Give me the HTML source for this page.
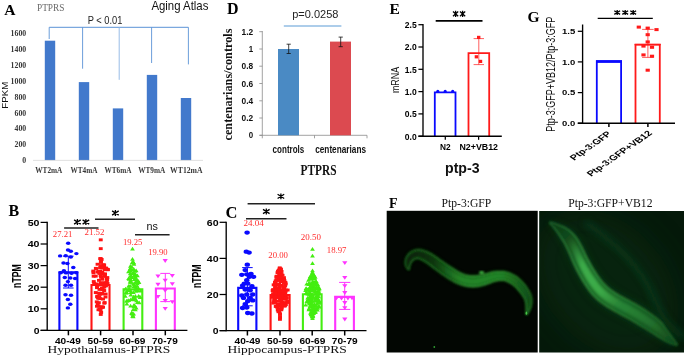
<!DOCTYPE html>
<html><head><meta charset="utf-8"><title>figure</title>
<style>
html,body{margin:0;padding:0;background:#fff;}
body{width:685px;height:356px;overflow:hidden;font-family:"Liberation Sans",sans-serif;}
svg{display:block;opacity:0.999;filter:blur(0.35px);}
</style></head><body>
<svg width="685" height="356" viewBox="0 0 685 356">
<defs>
<filter id="b0" x="-20%" y="-20%" width="140%" height="140%"><feGaussianBlur stdDeviation="0.7"/></filter>
<linearGradient id="g1a" gradientUnits="userSpaceOnUse" x1="405" y1="0" x2="532" y2="0"><stop offset="0" stop-color="#062108"/><stop offset="0.25" stop-color="#0a340d"/><stop offset="0.45" stop-color="#17651b"/><stop offset="0.75" stop-color="#176a1b"/><stop offset="0.9" stop-color="#114d15"/><stop offset="1" stop-color="#0c3a10"/></linearGradient>
<linearGradient id="g1b" gradientUnits="userSpaceOnUse" x1="405" y1="0" x2="532" y2="0"><stop offset="0" stop-color="#1b601c"/><stop offset="0.3" stop-color="#237824"/><stop offset="0.5" stop-color="#35a337"/><stop offset="0.8" stop-color="#2f9631"/><stop offset="1" stop-color="#206f22"/></linearGradient>
<linearGradient id="g1c" gradientUnits="userSpaceOnUse" x1="405" y1="0" x2="532" y2="0"><stop offset="0.2" stop-color="#3cc040" stop-opacity="0"/><stop offset="0.42" stop-color="#3cc040" stop-opacity="0.35"/><stop offset="0.75" stop-color="#3cc040" stop-opacity="0.3"/><stop offset="1" stop-color="#3cc040" stop-opacity="0.1"/></linearGradient>
<linearGradient id="g2a" gradientUnits="userSpaceOnUse" x1="550" y1="222" x2="677" y2="345"><stop offset="0" stop-color="#0d3915"/><stop offset="0.2" stop-color="#14531f"/><stop offset="0.4" stop-color="#1c6d29"/><stop offset="0.65" stop-color="#196325"/><stop offset="0.85" stop-color="#14531f"/><stop offset="1" stop-color="#0f4118"/></linearGradient>
<linearGradient id="g2b" gradientUnits="userSpaceOnUse" x1="550" y1="222" x2="677" y2="345"><stop offset="0" stop-color="#1f6830"/><stop offset="0.3" stop-color="#38a047"/><stop offset="0.6" stop-color="#2d8a3a"/><stop offset="0.85" stop-color="#23722f"/><stop offset="1" stop-color="#1c5e27"/></linearGradient>
<linearGradient id="g2c" gradientUnits="userSpaceOnUse" x1="550" y1="222" x2="677" y2="345"><stop offset="0.14" stop-color="#55dc62" stop-opacity="0"/><stop offset="0.3" stop-color="#55dc62" stop-opacity="0.6"/><stop offset="0.48" stop-color="#55dc62" stop-opacity="0.55"/><stop offset="0.6" stop-color="#55dc62" stop-opacity="0.28"/><stop offset="0.8" stop-color="#55dc62" stop-opacity="0.2"/><stop offset="1" stop-color="#55dc62" stop-opacity="0"/></linearGradient>
<filter id="b05" x="-20%" y="-20%" width="140%" height="140%"><feGaussianBlur stdDeviation="0.95"/></filter>
<filter id="b1" x="-20%" y="-20%" width="140%" height="140%"><feGaussianBlur stdDeviation="1.2"/></filter>
<filter id="b2" x="-20%" y="-20%" width="140%" height="140%"><feGaussianBlur stdDeviation="1.8"/></filter>
<filter id="b3" x="-30%" y="-30%" width="160%" height="160%"><feGaussianBlur stdDeviation="3.5"/></filter>
<filter id="b4" x="-50%" y="-50%" width="200%" height="200%"><feGaussianBlur stdDeviation="16"/></filter>
<clipPath id="c1"><rect x="386.7" y="210.8" width="151" height="141.7"/></clipPath>
<clipPath id="c2"><rect x="539.2" y="211.0" width="144.8" height="141.5"/></clipPath>
</defs>
<rect width="685" height="356" fill="#fff"/>
<text x="4.3" y="14.7" font-family="Liberation Serif" font-size="15.6" font-weight="bold" fill="#000" text-anchor="start">A</text>
<text x="37.0" y="11.0" font-family="Liberation Serif" font-size="9.8" font-weight="normal" fill="#6a6a6a" text-anchor="start" textLength="27.4" lengthAdjust="spacingAndGlyphs">PTPRS</text>
<text x="151.4" y="10.0" font-family="Liberation Sans" font-size="12.2" font-weight="normal" fill="#111" text-anchor="start" textLength="57.0" lengthAdjust="spacingAndGlyphs">Aging Atlas</text>
<text x="87.7" y="24.0" font-family="Liberation Sans" font-size="10.5" font-weight="normal" fill="#222" text-anchor="start" textLength="34.8" lengthAdjust="spacingAndGlyphs">P &lt; 0.01</text>
<line x1="49.2" y1="27.3" x2="188.4" y2="27.3" stroke="#5b93d6" stroke-width="1"/>
<line x1="49.2" y1="27.3" x2="49.2" y2="39.0" stroke="#5b93d6" stroke-width="0.9"/>
<line x1="82.6" y1="27.3" x2="82.6" y2="68.7" stroke="#5b93d6" stroke-width="0.9"/>
<line x1="119.2" y1="27.3" x2="119.2" y2="79.8" stroke="#8db5e4" stroke-width="0.9"/>
<line x1="151.6" y1="27.3" x2="151.6" y2="63.0" stroke="#5b93d6" stroke-width="0.9"/>
<line x1="188.4" y1="27.3" x2="188.4" y2="64.4" stroke="#5b93d6" stroke-width="0.9"/>
<rect x="44.8" y="40.7" width="10.4" height="119.5" fill="#4279cc" stroke="none" stroke-width="0"/>
<rect x="78.8" y="82.1" width="10.4" height="78.1" fill="#4279cc" stroke="none" stroke-width="0"/>
<rect x="112.8" y="108.4" width="10.4" height="51.8" fill="#4279cc" stroke="none" stroke-width="0"/>
<rect x="146.8" y="74.9" width="10.4" height="85.3" fill="#4279cc" stroke="none" stroke-width="0"/>
<rect x="180.8" y="98.0" width="10.4" height="62.2" fill="#4279cc" stroke="none" stroke-width="0"/>
<line x1="33.0" y1="160.4" x2="203.0" y2="160.4" stroke="#d9d9d9" stroke-width="0.8"/>
<text x="26.2" y="36.2" font-family="Liberation Serif" font-size="8.6" font-weight="bold" fill="#383838" text-anchor="end" textLength="15.6" lengthAdjust="spacingAndGlyphs">1600</text>
<text x="26.2" y="52.0" font-family="Liberation Serif" font-size="8.6" font-weight="bold" fill="#383838" text-anchor="end" textLength="15.6" lengthAdjust="spacingAndGlyphs">1400</text>
<text x="26.2" y="67.9" font-family="Liberation Serif" font-size="8.6" font-weight="bold" fill="#383838" text-anchor="end" textLength="15.6" lengthAdjust="spacingAndGlyphs">1200</text>
<text x="26.2" y="83.8" font-family="Liberation Serif" font-size="8.6" font-weight="bold" fill="#383838" text-anchor="end" textLength="15.6" lengthAdjust="spacingAndGlyphs">1000</text>
<text x="26.2" y="99.6" font-family="Liberation Serif" font-size="8.6" font-weight="bold" fill="#383838" text-anchor="end" textLength="11.7" lengthAdjust="spacingAndGlyphs">800</text>
<text x="26.2" y="115.5" font-family="Liberation Serif" font-size="8.6" font-weight="bold" fill="#383838" text-anchor="end" textLength="11.7" lengthAdjust="spacingAndGlyphs">600</text>
<text x="26.2" y="131.3" font-family="Liberation Serif" font-size="8.6" font-weight="bold" fill="#383838" text-anchor="end" textLength="11.7" lengthAdjust="spacingAndGlyphs">400</text>
<text x="26.2" y="147.2" font-family="Liberation Serif" font-size="8.6" font-weight="bold" fill="#383838" text-anchor="end" textLength="11.7" lengthAdjust="spacingAndGlyphs">200</text>
<text x="26.2" y="163.0" font-family="Liberation Serif" font-size="8.6" font-weight="bold" fill="#383838" text-anchor="end" textLength="3.9" lengthAdjust="spacingAndGlyphs">0</text>
<text x="35.3" y="172.8" font-family="Liberation Serif" font-size="8.4" font-weight="bold" fill="#383838" text-anchor="start" textLength="27.0" lengthAdjust="spacingAndGlyphs">WT2mA</text>
<text x="70.5" y="172.8" font-family="Liberation Serif" font-size="8.4" font-weight="bold" fill="#383838" text-anchor="start" textLength="27.0" lengthAdjust="spacingAndGlyphs">WT4mA</text>
<text x="104.5" y="172.8" font-family="Liberation Serif" font-size="8.4" font-weight="bold" fill="#383838" text-anchor="start" textLength="27.0" lengthAdjust="spacingAndGlyphs">WT6mA</text>
<text x="138.2" y="172.8" font-family="Liberation Serif" font-size="8.4" font-weight="bold" fill="#383838" text-anchor="start" textLength="27.0" lengthAdjust="spacingAndGlyphs">WT9mA</text>
<text x="170.1" y="172.8" font-family="Liberation Serif" font-size="8.4" font-weight="bold" fill="#383838" text-anchor="start" textLength="32.5" lengthAdjust="spacingAndGlyphs">WT12mA</text>
<text transform="translate(8.3,95.2) rotate(-90)" font-family="Liberation Sans" font-size="9.7" text-anchor="middle" fill="#111">FPKM</text>
<text x="227.0" y="14.0" font-family="Liberation Serif" font-size="16" font-weight="bold" fill="#000" text-anchor="start">D</text>
<text x="292.2" y="17.9" font-family="Liberation Sans" font-size="10.8" font-weight="normal" fill="#222" text-anchor="start" textLength="46.2" lengthAdjust="spacingAndGlyphs">p=0.0258</text>
<line x1="283.8" y1="26.0" x2="341.4" y2="26.0" stroke="#5b9bd5" stroke-width="1"/>
<line x1="262.3" y1="31.0" x2="262.3" y2="135.3" stroke="#8a8a8a" stroke-width="0.8"/>
<line x1="259.5" y1="135.3" x2="367.0" y2="135.3" stroke="#8a8a8a" stroke-width="0.8"/>
<line x1="259.3" y1="135.3" x2="262.3" y2="135.3" stroke="#8a8a8a" stroke-width="0.8"/>
<text x="253.2" y="138.3" font-family="Liberation Sans" font-size="8.6" font-weight="bold" fill="#111" text-anchor="end" textLength="4.4" lengthAdjust="spacingAndGlyphs">0</text>
<line x1="259.3" y1="118.0" x2="262.3" y2="118.0" stroke="#8a8a8a" stroke-width="0.8"/>
<text x="253.2" y="121.0" font-family="Liberation Sans" font-size="8.6" font-weight="bold" fill="#111" text-anchor="end" textLength="11.6" lengthAdjust="spacingAndGlyphs">0.2</text>
<line x1="259.3" y1="100.8" x2="262.3" y2="100.8" stroke="#8a8a8a" stroke-width="0.8"/>
<text x="253.2" y="103.8" font-family="Liberation Sans" font-size="8.6" font-weight="bold" fill="#111" text-anchor="end" textLength="11.6" lengthAdjust="spacingAndGlyphs">0.4</text>
<line x1="259.3" y1="83.5" x2="262.3" y2="83.5" stroke="#8a8a8a" stroke-width="0.8"/>
<text x="253.2" y="86.5" font-family="Liberation Sans" font-size="8.6" font-weight="bold" fill="#111" text-anchor="end" textLength="11.6" lengthAdjust="spacingAndGlyphs">0.6</text>
<line x1="259.3" y1="66.2" x2="262.3" y2="66.2" stroke="#8a8a8a" stroke-width="0.8"/>
<text x="253.2" y="69.2" font-family="Liberation Sans" font-size="8.6" font-weight="bold" fill="#111" text-anchor="end" textLength="11.6" lengthAdjust="spacingAndGlyphs">0.8</text>
<line x1="259.3" y1="49.0" x2="262.3" y2="49.0" stroke="#8a8a8a" stroke-width="0.8"/>
<text x="253.2" y="52.0" font-family="Liberation Sans" font-size="8.6" font-weight="bold" fill="#111" text-anchor="end" textLength="4.4" lengthAdjust="spacingAndGlyphs">1</text>
<line x1="259.3" y1="31.7" x2="262.3" y2="31.7" stroke="#8a8a8a" stroke-width="0.8"/>
<text x="253.2" y="34.7" font-family="Liberation Sans" font-size="8.6" font-weight="bold" fill="#111" text-anchor="end" textLength="11.6" lengthAdjust="spacingAndGlyphs">1.2</text>
<line x1="262.3" y1="135.3" x2="262.3" y2="138.3" stroke="#8a8a8a" stroke-width="0.8"/>
<line x1="314.5" y1="135.3" x2="314.5" y2="138.3" stroke="#8a8a8a" stroke-width="0.8"/>
<line x1="367.0" y1="135.3" x2="367.0" y2="138.3" stroke="#8a8a8a" stroke-width="0.8"/>
<rect x="278.0" y="49.0" width="21.0" height="86.3" fill="#4a8ac4" stroke="none" stroke-width="0"/>
<rect x="330.0" y="41.6" width="21.0" height="93.7" fill="#dc4a50" stroke="none" stroke-width="0"/>
<line x1="288.7" y1="44.2" x2="288.7" y2="53.5" stroke="#111" stroke-width="0.8"/>
<line x1="286.6" y1="44.2" x2="290.8" y2="44.2" stroke="#111" stroke-width="0.8"/>
<line x1="286.6" y1="53.5" x2="290.8" y2="53.5" stroke="#111" stroke-width="0.8"/>
<line x1="340.7" y1="37.1" x2="340.7" y2="46.7" stroke="#111" stroke-width="0.8"/>
<line x1="338.6" y1="37.1" x2="342.8" y2="37.1" stroke="#111" stroke-width="0.8"/>
<line x1="338.6" y1="46.7" x2="342.8" y2="46.7" stroke="#111" stroke-width="0.8"/>
<text x="272.6" y="152.9" font-family="Liberation Sans" font-size="10.2" font-weight="bold" fill="#111" text-anchor="start" textLength="31.7" lengthAdjust="spacingAndGlyphs">controls</text>
<text x="315.2" y="152.9" font-family="Liberation Sans" font-size="10.2" font-weight="bold" fill="#111" text-anchor="start" textLength="50.8" lengthAdjust="spacingAndGlyphs">centenarians</text>
<text x="300.6" y="174.8" font-family="Liberation Serif" font-size="13.6" font-weight="bold" fill="#111" text-anchor="start" textLength="36.0" lengthAdjust="spacingAndGlyphs">PTPRS</text>
<text transform="translate(231.8,84.5) rotate(-90)" font-family="Liberation Serif" font-size="12.2" font-weight="bold" text-anchor="middle" fill="#111" textLength="112" lengthAdjust="spacingAndGlyphs">centenarians/controls</text>
<text x="389.5" y="14.0" font-family="Liberation Serif" font-size="15.5" font-weight="bold" fill="#000" text-anchor="start">E</text>
<path d="M434.8,136.2 V92.4 H455.5 V136.2" fill="none" stroke="#0a0aff" stroke-width="1.8"/>
<path d="M468.5,136.2 V53.2 H489.2 V136.2" fill="none" stroke="#ff1a1a" stroke-width="1.8"/>
<line x1="423.0" y1="24.0" x2="423.0" y2="136.8" stroke="#000" stroke-width="1.35"/>
<line x1="418.4" y1="136.2" x2="501.8" y2="136.2" stroke="#000" stroke-width="1.35"/>
<line x1="418.4" y1="136.2" x2="423.0" y2="136.2" stroke="#000" stroke-width="1.25"/>
<text x="416.7" y="139.5" font-family="Liberation Sans" font-size="9.2" font-weight="bold" fill="#000" text-anchor="end" textLength="11.9" lengthAdjust="spacingAndGlyphs">0.0</text>
<line x1="418.4" y1="113.9" x2="423.0" y2="113.9" stroke="#000" stroke-width="1.25"/>
<text x="416.7" y="117.2" font-family="Liberation Sans" font-size="9.2" font-weight="bold" fill="#000" text-anchor="end" textLength="11.9" lengthAdjust="spacingAndGlyphs">0.5</text>
<line x1="418.4" y1="91.6" x2="423.0" y2="91.6" stroke="#000" stroke-width="1.25"/>
<text x="416.7" y="94.9" font-family="Liberation Sans" font-size="9.2" font-weight="bold" fill="#000" text-anchor="end" textLength="11.9" lengthAdjust="spacingAndGlyphs">1.0</text>
<line x1="418.4" y1="69.3" x2="423.0" y2="69.3" stroke="#000" stroke-width="1.25"/>
<text x="416.7" y="72.6" font-family="Liberation Sans" font-size="9.2" font-weight="bold" fill="#000" text-anchor="end" textLength="11.9" lengthAdjust="spacingAndGlyphs">1.5</text>
<line x1="418.4" y1="47.0" x2="423.0" y2="47.0" stroke="#000" stroke-width="1.25"/>
<text x="416.7" y="50.3" font-family="Liberation Sans" font-size="9.2" font-weight="bold" fill="#000" text-anchor="end" textLength="11.9" lengthAdjust="spacingAndGlyphs">2.0</text>
<line x1="418.4" y1="24.7" x2="423.0" y2="24.7" stroke="#000" stroke-width="1.25"/>
<text x="416.7" y="28.0" font-family="Liberation Sans" font-size="9.2" font-weight="bold" fill="#000" text-anchor="end" textLength="11.9" lengthAdjust="spacingAndGlyphs">2.5</text>
<line x1="445.3" y1="136.2" x2="445.3" y2="139.8" stroke="#000" stroke-width="1.25"/>
<line x1="478.6" y1="136.2" x2="478.6" y2="139.8" stroke="#000" stroke-width="1.25"/>
<circle cx="437.8" cy="91.4" r="1.6" fill="#0a0aff"/>
<circle cx="445.2" cy="91.4" r="1.6" fill="#0a0aff"/>
<circle cx="452.7" cy="91.4" r="1.6" fill="#0a0aff"/>
<line x1="478.8" y1="38.6" x2="478.8" y2="64.6" stroke="#ff1a1a" stroke-width="0.7"/>
<line x1="473.6" y1="38.6" x2="484.0" y2="38.6" stroke="#ff1a1a" stroke-width="0.7"/>
<line x1="473.6" y1="64.6" x2="484.0" y2="64.6" stroke="#ff1a1a" stroke-width="0.7"/>
<rect x="477.0" y="35.8" width="3.4" height="3.2" fill="#ff1a1a" stroke="none" stroke-width="0"/>
<rect x="474.7" y="55.2" width="3.4" height="3.2" fill="#ff1a1a" stroke="none" stroke-width="0"/>
<rect x="478.8" y="59.8" width="3.4" height="3.2" fill="#ff1a1a" stroke="none" stroke-width="0"/>
<line x1="435.7" y1="20.9" x2="482.5" y2="20.9" stroke="#000" stroke-width="1.7"/>
<path d="M455.6,10.8 V17.1 M453.0,11.6 L458.2,16.2 M453.0,16.2 L458.2,11.6" stroke="#000" stroke-width="1.3" fill="none"/>
<path d="M462.6,10.8 V17.1 M460.0,11.6 L465.2,16.2 M460.0,16.2 L465.2,11.6" stroke="#000" stroke-width="1.3" fill="none"/>
<text x="440.0" y="150.2" font-family="Liberation Sans" font-size="9" font-weight="bold" fill="#000" text-anchor="start" textLength="10.6" lengthAdjust="spacingAndGlyphs">N2</text>
<text x="459.5" y="150.2" font-family="Liberation Sans" font-size="9" font-weight="bold" fill="#000" text-anchor="start" textLength="38.5" lengthAdjust="spacingAndGlyphs">N2+VB12</text>
<text x="445.0" y="173.4" font-family="Liberation Sans" font-size="15.5" font-weight="bold" fill="#111" text-anchor="start" textLength="34.6" lengthAdjust="spacingAndGlyphs">ptp-3</text>
<text transform="translate(399.3,80) scale(1.2,1) rotate(-90)" font-family="Liberation Sans" font-size="8.9" text-anchor="middle" fill="#111">mRNA</text>
<text x="527.6" y="21.5" font-family="Liberation Serif" font-size="15.5" font-weight="bold" fill="#000" text-anchor="start">G</text>
<path d="M596.8,123.2 V61.2 H621.1 V123.2" fill="none" stroke="#0a0aff" stroke-width="1.8"/>
<line x1="596.0" y1="61.6" x2="622.0" y2="61.6" stroke="#0a0aff" stroke-width="2.6"/>
<path d="M635.5,123.2 V44.6 H659.8 V123.2" fill="none" stroke="#ff1a1a" stroke-width="1.8"/>
<line x1="634.6" y1="44.6" x2="660.7" y2="44.6" stroke="#ff1a1a" stroke-width="1.4"/>
<line x1="582.6" y1="24.5" x2="582.6" y2="123.9" stroke="#000" stroke-width="1.35"/>
<line x1="577.8" y1="123.2" x2="675.0" y2="123.2" stroke="#000" stroke-width="1.35"/>
<line x1="577.8" y1="123.2" x2="582.6" y2="123.2" stroke="#000" stroke-width="1.25"/>
<text x="575.3" y="126.0" font-family="Liberation Sans" font-size="7.9" font-weight="bold" fill="#000" text-anchor="end" textLength="13.2" lengthAdjust="spacingAndGlyphs">0.0</text>
<line x1="577.8" y1="92.6" x2="582.6" y2="92.6" stroke="#000" stroke-width="1.25"/>
<text x="575.3" y="95.4" font-family="Liberation Sans" font-size="7.9" font-weight="bold" fill="#000" text-anchor="end" textLength="13.2" lengthAdjust="spacingAndGlyphs">0.5</text>
<line x1="577.8" y1="61.9" x2="582.6" y2="61.9" stroke="#000" stroke-width="1.25"/>
<text x="575.3" y="64.7" font-family="Liberation Sans" font-size="7.9" font-weight="bold" fill="#000" text-anchor="end" textLength="13.2" lengthAdjust="spacingAndGlyphs">1.0</text>
<line x1="577.8" y1="31.3" x2="582.6" y2="31.3" stroke="#000" stroke-width="1.25"/>
<text x="575.3" y="34.1" font-family="Liberation Sans" font-size="7.9" font-weight="bold" fill="#000" text-anchor="end" textLength="13.2" lengthAdjust="spacingAndGlyphs">1.5</text>
<line x1="608.9" y1="123.2" x2="608.9" y2="127.0" stroke="#000" stroke-width="1.5"/>
<line x1="647.9" y1="123.2" x2="647.9" y2="127.0" stroke="#000" stroke-width="1.5"/>
<line x1="647.9" y1="29.4" x2="647.9" y2="57.4" stroke="#ff1a1a" stroke-width="0.7"/>
<line x1="642.1" y1="29.4" x2="653.7" y2="29.4" stroke="#ff1a1a" stroke-width="0.7"/>
<line x1="642.1" y1="57.4" x2="653.7" y2="57.4" stroke="#ff1a1a" stroke-width="0.7"/>
<rect x="636.7" y="25.6" width="4.2" height="3.0" fill="#ff1a1a" stroke="none" stroke-width="0"/>
<rect x="645.6" y="26.6" width="4.2" height="3.0" fill="#ff1a1a" stroke="none" stroke-width="0"/>
<rect x="654.4" y="28.1" width="4.2" height="3.0" fill="#ff1a1a" stroke="none" stroke-width="0"/>
<rect x="645.6" y="33.2" width="4.2" height="3.0" fill="#ff1a1a" stroke="none" stroke-width="0"/>
<rect x="645.6" y="40.4" width="4.2" height="3.0" fill="#ff1a1a" stroke="none" stroke-width="0"/>
<rect x="641.4" y="44.6" width="4.2" height="3.0" fill="#ff1a1a" stroke="none" stroke-width="0"/>
<rect x="649.9" y="45.8" width="4.2" height="3.0" fill="#ff1a1a" stroke="none" stroke-width="0"/>
<rect x="641.4" y="53.4" width="4.2" height="3.0" fill="#ff1a1a" stroke="none" stroke-width="0"/>
<rect x="649.9" y="54.7" width="4.2" height="3.0" fill="#ff1a1a" stroke="none" stroke-width="0"/>
<rect x="645.6" y="68.7" width="4.2" height="3.0" fill="#ff1a1a" stroke="none" stroke-width="0"/>
<line x1="597.7" y1="18.4" x2="652.8" y2="18.4" stroke="#000" stroke-width="1.4"/>
<path d="M617.2,10.1 V15.1 M614.3,10.8 L620.1,14.4 M614.3,14.4 L620.1,10.8" stroke="#000" stroke-width="1.3" fill="none"/>
<path d="M625.2,10.1 V15.1 M622.3,10.8 L628.1,14.4 M622.3,14.4 L628.1,10.8" stroke="#000" stroke-width="1.3" fill="none"/>
<path d="M633.2,10.1 V15.1 M630.3,10.8 L636.1,14.4 M630.3,14.4 L636.1,10.8" stroke="#000" stroke-width="1.3" fill="none"/>
<text transform="translate(554.7,74.3) scale(1.4,1) rotate(-90)" font-family="Liberation Sans" font-size="8.9" text-anchor="middle" fill="#111" textLength="115" lengthAdjust="spacingAndGlyphs">Ptp-3:GFP+VB12/Ptp-3:GFP</text>
<text transform="translate(612,134.3) scale(1.43,1) rotate(-45)" font-family="Liberation Sans" font-size="7.65" font-weight="bold" text-anchor="end" fill="#000">Ptp-3:GFP</text>
<text transform="translate(652.8,133.8) scale(1.43,1) rotate(-45)" font-family="Liberation Sans" font-size="7.65" font-weight="bold" text-anchor="end" fill="#000">Ptp-3:GFP+VB12</text>
<text x="8.5" y="216.4" font-family="Liberation Serif" font-size="16" font-weight="bold" fill="#000" text-anchor="start">B</text>
<path d="M59.4,330.4 V272.3 H77.4 V330.4" fill="none" stroke="#0a0aff" stroke-width="2.1"/>
<path d="M91.5,330.4 V285.0 H109.5 V330.4" fill="none" stroke="#ff1414" stroke-width="2.1"/>
<path d="M123.6,330.4 V289.4 H142.3 V330.4" fill="none" stroke="#44ee11" stroke-width="2.1"/>
<path d="M155.9,330.4 V288.5 H174.8 V330.4" fill="none" stroke="#ff33ff" stroke-width="2.1"/>
<line x1="47.2" y1="221.8" x2="47.2" y2="331.0" stroke="#000" stroke-width="1.35"/>
<line x1="40.6" y1="330.4" x2="187.4" y2="330.4" stroke="#000" stroke-width="1.35"/>
<line x1="40.6" y1="330.4" x2="47.2" y2="330.4" stroke="#000" stroke-width="1.25"/>
<text x="39.5" y="333.7" font-family="Liberation Sans" font-size="9.3" font-weight="bold" fill="#000" text-anchor="end" textLength="5.8" lengthAdjust="spacingAndGlyphs">0</text>
<line x1="40.6" y1="308.8" x2="47.2" y2="308.8" stroke="#000" stroke-width="1.25"/>
<text x="39.5" y="312.1" font-family="Liberation Sans" font-size="9.3" font-weight="bold" fill="#000" text-anchor="end" textLength="11.8" lengthAdjust="spacingAndGlyphs">10</text>
<line x1="40.6" y1="287.2" x2="47.2" y2="287.2" stroke="#000" stroke-width="1.25"/>
<text x="39.5" y="290.5" font-family="Liberation Sans" font-size="9.3" font-weight="bold" fill="#000" text-anchor="end" textLength="11.8" lengthAdjust="spacingAndGlyphs">20</text>
<line x1="40.6" y1="265.6" x2="47.2" y2="265.6" stroke="#000" stroke-width="1.25"/>
<text x="39.5" y="268.9" font-family="Liberation Sans" font-size="9.3" font-weight="bold" fill="#000" text-anchor="end" textLength="11.8" lengthAdjust="spacingAndGlyphs">30</text>
<line x1="40.6" y1="244.0" x2="47.2" y2="244.0" stroke="#000" stroke-width="1.25"/>
<text x="39.5" y="247.3" font-family="Liberation Sans" font-size="9.3" font-weight="bold" fill="#000" text-anchor="end" textLength="11.8" lengthAdjust="spacingAndGlyphs">40</text>
<line x1="40.6" y1="222.4" x2="47.2" y2="222.4" stroke="#000" stroke-width="1.25"/>
<text x="39.5" y="225.7" font-family="Liberation Sans" font-size="9.3" font-weight="bold" fill="#000" text-anchor="end" textLength="11.8" lengthAdjust="spacingAndGlyphs">50</text>
<line x1="68.4" y1="330.4" x2="68.4" y2="335.3" stroke="#000" stroke-width="1.5"/>
<line x1="100.6" y1="330.4" x2="100.6" y2="335.3" stroke="#000" stroke-width="1.5"/>
<line x1="133.0" y1="330.4" x2="133.0" y2="335.3" stroke="#000" stroke-width="1.5"/>
<line x1="165.3" y1="330.4" x2="165.3" y2="335.3" stroke="#000" stroke-width="1.5"/>
<text x="55.0" y="343.8" font-family="Liberation Sans" font-size="9.2" font-weight="bold" fill="#000" text-anchor="start" textLength="25.8" lengthAdjust="spacingAndGlyphs">40-49</text>
<text x="87.6" y="343.8" font-family="Liberation Sans" font-size="9.2" font-weight="bold" fill="#000" text-anchor="start" textLength="25.8" lengthAdjust="spacingAndGlyphs">50-59</text>
<text x="119.6" y="343.8" font-family="Liberation Sans" font-size="9.2" font-weight="bold" fill="#000" text-anchor="start" textLength="25.8" lengthAdjust="spacingAndGlyphs">60-69</text>
<text x="152.0" y="343.8" font-family="Liberation Sans" font-size="9.2" font-weight="bold" fill="#000" text-anchor="start" textLength="25.8" lengthAdjust="spacingAndGlyphs">70-79</text>
<text x="47.4" y="353.0" font-family="Liberation Serif" font-size="10.4" font-weight="normal" fill="#111" text-anchor="start" textLength="123.0" lengthAdjust="spacingAndGlyphs">Hypothalamus-PTPRS</text>
<text transform="translate(21.3,276.1) scale(1.4,1) rotate(-90)" font-family="Liberation Sans" font-size="8.67" font-weight="bold" text-anchor="middle" fill="#000">nTPM</text>
<line x1="64.1" y1="228.0" x2="98.5" y2="228.0" stroke="#222" stroke-width="1.4"/>
<path d="M77.4,219.1 V224.9 M74.1,219.9 L80.7,224.1 M74.1,224.1 L80.7,219.9" stroke="#000" stroke-width="1.3" fill="none"/>
<path d="M85.9,219.1 V224.9 M82.6,219.9 L89.2,224.1 M82.6,224.1 L89.2,219.9" stroke="#000" stroke-width="1.3" fill="none"/>
<line x1="95.0" y1="219.2" x2="135.0" y2="219.2" stroke="#222" stroke-width="1.4"/>
<path d="M115.4,210.1 V215.9 M112.1,210.9 L118.7,215.1 M112.1,215.1 L118.7,210.9" stroke="#000" stroke-width="1.3" fill="none"/>
<line x1="135.0" y1="234.8" x2="169.6" y2="234.8" stroke="#222" stroke-width="1.4"/>
<text x="152.3" y="230.4" font-family="Liberation Sans" font-size="10" font-weight="normal" fill="#111" text-anchor="middle" textLength="11.4" lengthAdjust="spacingAndGlyphs">ns</text>
<text x="52.8" y="236.7" font-family="Liberation Serif" font-size="7.2" font-weight="normal" fill="#ff2c2c" text-anchor="start" textLength="19.6" lengthAdjust="spacingAndGlyphs">27.21</text>
<text x="84.5" y="235.1" font-family="Liberation Serif" font-size="7.2" font-weight="normal" fill="#ff2c2c" text-anchor="start" textLength="20.0" lengthAdjust="spacingAndGlyphs">21.52</text>
<text x="122.9" y="244.6" font-family="Liberation Serif" font-size="7.2" font-weight="normal" fill="#ff2c2c" text-anchor="start" textLength="19.5" lengthAdjust="spacingAndGlyphs">19.25</text>
<text x="148.2" y="255.0" font-family="Liberation Serif" font-size="7.2" font-weight="normal" fill="#ff2c2c" text-anchor="start" textLength="19.4" lengthAdjust="spacingAndGlyphs">19.90</text>
<line x1="68.3" y1="256.2" x2="68.3" y2="288.0" stroke="#0a0aff" stroke-width="1.0"/>
<line x1="63.0" y1="256.2" x2="73.6" y2="256.2" stroke="#0a0aff" stroke-width="1.0"/>
<line x1="63.0" y1="288.0" x2="73.6" y2="288.0" stroke="#0a0aff" stroke-width="1.0"/>
<ellipse cx="68.2" cy="243.3" rx="2.25" ry="1.7" fill="#0a0aff"/>
<ellipse cx="68.0" cy="250.0" rx="2.25" ry="1.7" fill="#0a0aff"/>
<ellipse cx="70.8" cy="251.2" rx="2.25" ry="1.7" fill="#0a0aff"/>
<ellipse cx="76.4" cy="253.6" rx="2.25" ry="1.7" fill="#0a0aff"/>
<ellipse cx="60.1" cy="255.9" rx="2.25" ry="1.7" fill="#0a0aff"/>
<ellipse cx="65.7" cy="255.7" rx="2.25" ry="1.7" fill="#0a0aff"/>
<ellipse cx="70.8" cy="257.0" rx="2.25" ry="1.7" fill="#0a0aff"/>
<ellipse cx="63.5" cy="263.0" rx="2.25" ry="1.7" fill="#0a0aff"/>
<ellipse cx="67.4" cy="263.5" rx="2.25" ry="1.7" fill="#0a0aff"/>
<ellipse cx="73.3" cy="267.5" rx="2.25" ry="1.7" fill="#0a0aff"/>
<ellipse cx="63.9" cy="270.8" rx="2.25" ry="1.7" fill="#0a0aff"/>
<ellipse cx="60.7" cy="272.7" rx="2.25" ry="1.7" fill="#0a0aff"/>
<ellipse cx="66.0" cy="272.9" rx="2.25" ry="1.7" fill="#0a0aff"/>
<ellipse cx="71.5" cy="273.2" rx="2.25" ry="1.7" fill="#0a0aff"/>
<ellipse cx="76.2" cy="272.8" rx="2.25" ry="1.7" fill="#0a0aff"/>
<ellipse cx="64.8" cy="277.5" rx="2.25" ry="1.7" fill="#0a0aff"/>
<ellipse cx="70.3" cy="278.0" rx="2.25" ry="1.7" fill="#0a0aff"/>
<ellipse cx="75.1" cy="278.5" rx="2.25" ry="1.7" fill="#0a0aff"/>
<ellipse cx="67.9" cy="281.6" rx="2.25" ry="1.7" fill="#0a0aff"/>
<ellipse cx="65.5" cy="285.2" rx="2.25" ry="1.7" fill="#0a0aff"/>
<ellipse cx="71.0" cy="285.2" rx="2.25" ry="1.7" fill="#0a0aff"/>
<ellipse cx="65.5" cy="294.7" rx="2.25" ry="1.7" fill="#0a0aff"/>
<ellipse cx="71.0" cy="295.2" rx="2.25" ry="1.7" fill="#0a0aff"/>
<ellipse cx="67.9" cy="299.5" rx="2.25" ry="1.7" fill="#0a0aff"/>
<ellipse cx="70.3" cy="304.3" rx="2.25" ry="1.7" fill="#0a0aff"/>
<ellipse cx="67.9" cy="307.9" rx="2.25" ry="1.7" fill="#0a0aff"/>
<rect x="98.8" y="238.4" width="3.9" height="2.9" fill="#ff1414" stroke="none" stroke-width="0"/>
<rect x="98.8" y="247.2" width="3.9" height="2.9" fill="#ff1414" stroke="none" stroke-width="0"/>
<rect x="98.7" y="257.1" width="3.9" height="2.9" fill="#ff1414" stroke="none" stroke-width="0"/>
<rect x="98.3" y="257.3" width="3.9" height="2.9" fill="#ff1414" stroke="none" stroke-width="0"/>
<rect x="99.7" y="258.0" width="3.9" height="2.9" fill="#ff1414" stroke="none" stroke-width="0"/>
<rect x="99.0" y="260.0" width="3.9" height="2.9" fill="#ff1414" stroke="none" stroke-width="0"/>
<rect x="98.9" y="261.0" width="3.9" height="2.9" fill="#ff1414" stroke="none" stroke-width="0"/>
<rect x="95.6" y="262.8" width="3.9" height="2.9" fill="#ff1414" stroke="none" stroke-width="0"/>
<rect x="101.5" y="263.3" width="3.9" height="2.9" fill="#ff1414" stroke="none" stroke-width="0"/>
<rect x="102.2" y="263.5" width="3.9" height="2.9" fill="#ff1414" stroke="none" stroke-width="0"/>
<rect x="98.9" y="264.1" width="3.9" height="2.9" fill="#ff1414" stroke="none" stroke-width="0"/>
<rect x="102.1" y="265.9" width="3.9" height="2.9" fill="#ff1414" stroke="none" stroke-width="0"/>
<rect x="99.6" y="266.1" width="3.9" height="2.9" fill="#ff1414" stroke="none" stroke-width="0"/>
<rect x="98.1" y="266.2" width="3.9" height="2.9" fill="#ff1414" stroke="none" stroke-width="0"/>
<rect x="103.9" y="266.5" width="3.9" height="2.9" fill="#ff1414" stroke="none" stroke-width="0"/>
<rect x="100.4" y="266.6" width="3.9" height="2.9" fill="#ff1414" stroke="none" stroke-width="0"/>
<rect x="93.9" y="266.9" width="3.9" height="2.9" fill="#ff1414" stroke="none" stroke-width="0"/>
<rect x="104.3" y="267.0" width="3.9" height="2.9" fill="#ff1414" stroke="none" stroke-width="0"/>
<rect x="94.3" y="267.4" width="3.9" height="2.9" fill="#ff1414" stroke="none" stroke-width="0"/>
<rect x="105.5" y="267.9" width="3.9" height="2.9" fill="#ff1414" stroke="none" stroke-width="0"/>
<rect x="103.9" y="268.1" width="3.9" height="2.9" fill="#ff1414" stroke="none" stroke-width="0"/>
<rect x="105.7" y="268.2" width="3.9" height="2.9" fill="#ff1414" stroke="none" stroke-width="0"/>
<rect x="102.8" y="268.2" width="3.9" height="2.9" fill="#ff1414" stroke="none" stroke-width="0"/>
<rect x="105.8" y="268.2" width="3.9" height="2.9" fill="#ff1414" stroke="none" stroke-width="0"/>
<rect x="91.3" y="269.6" width="3.9" height="2.9" fill="#ff1414" stroke="none" stroke-width="0"/>
<rect x="98.2" y="269.8" width="3.9" height="2.9" fill="#ff1414" stroke="none" stroke-width="0"/>
<rect x="96.6" y="269.9" width="3.9" height="2.9" fill="#ff1414" stroke="none" stroke-width="0"/>
<rect x="95.5" y="270.6" width="3.9" height="2.9" fill="#ff1414" stroke="none" stroke-width="0"/>
<rect x="100.3" y="270.7" width="3.9" height="2.9" fill="#ff1414" stroke="none" stroke-width="0"/>
<rect x="91.5" y="271.4" width="3.9" height="2.9" fill="#ff1414" stroke="none" stroke-width="0"/>
<rect x="97.3" y="271.7" width="3.9" height="2.9" fill="#ff1414" stroke="none" stroke-width="0"/>
<rect x="97.9" y="271.8" width="3.9" height="2.9" fill="#ff1414" stroke="none" stroke-width="0"/>
<rect x="103.1" y="272.5" width="3.9" height="2.9" fill="#ff1414" stroke="none" stroke-width="0"/>
<rect x="101.0" y="272.6" width="3.9" height="2.9" fill="#ff1414" stroke="none" stroke-width="0"/>
<rect x="102.4" y="272.8" width="3.9" height="2.9" fill="#ff1414" stroke="none" stroke-width="0"/>
<rect x="98.7" y="274.1" width="3.9" height="2.9" fill="#ff1414" stroke="none" stroke-width="0"/>
<rect x="93.8" y="274.7" width="3.9" height="2.9" fill="#ff1414" stroke="none" stroke-width="0"/>
<rect x="91.7" y="274.8" width="3.9" height="2.9" fill="#ff1414" stroke="none" stroke-width="0"/>
<rect x="103.0" y="275.0" width="3.9" height="2.9" fill="#ff1414" stroke="none" stroke-width="0"/>
<rect x="99.1" y="275.8" width="3.9" height="2.9" fill="#ff1414" stroke="none" stroke-width="0"/>
<rect x="105.4" y="276.1" width="3.9" height="2.9" fill="#ff1414" stroke="none" stroke-width="0"/>
<rect x="105.0" y="277.5" width="3.9" height="2.9" fill="#ff1414" stroke="none" stroke-width="0"/>
<rect x="100.5" y="277.8" width="3.9" height="2.9" fill="#ff1414" stroke="none" stroke-width="0"/>
<rect x="105.2" y="278.5" width="3.9" height="2.9" fill="#ff1414" stroke="none" stroke-width="0"/>
<rect x="97.0" y="278.9" width="3.9" height="2.9" fill="#ff1414" stroke="none" stroke-width="0"/>
<rect x="91.8" y="280.1" width="3.9" height="2.9" fill="#ff1414" stroke="none" stroke-width="0"/>
<rect x="104.8" y="280.6" width="3.9" height="2.9" fill="#ff1414" stroke="none" stroke-width="0"/>
<rect x="99.0" y="281.2" width="3.9" height="2.9" fill="#ff1414" stroke="none" stroke-width="0"/>
<rect x="102.6" y="281.2" width="3.9" height="2.9" fill="#ff1414" stroke="none" stroke-width="0"/>
<rect x="104.7" y="281.8" width="3.9" height="2.9" fill="#ff1414" stroke="none" stroke-width="0"/>
<rect x="92.2" y="281.8" width="3.9" height="2.9" fill="#ff1414" stroke="none" stroke-width="0"/>
<rect x="105.6" y="282.1" width="3.9" height="2.9" fill="#ff1414" stroke="none" stroke-width="0"/>
<rect x="94.8" y="282.5" width="3.9" height="2.9" fill="#ff1414" stroke="none" stroke-width="0"/>
<rect x="99.9" y="282.6" width="3.9" height="2.9" fill="#ff1414" stroke="none" stroke-width="0"/>
<rect x="101.3" y="283.5" width="3.9" height="2.9" fill="#ff1414" stroke="none" stroke-width="0"/>
<rect x="96.4" y="283.5" width="3.9" height="2.9" fill="#ff1414" stroke="none" stroke-width="0"/>
<rect x="103.5" y="283.6" width="3.9" height="2.9" fill="#ff1414" stroke="none" stroke-width="0"/>
<rect x="102.7" y="283.8" width="3.9" height="2.9" fill="#ff1414" stroke="none" stroke-width="0"/>
<rect x="104.0" y="284.4" width="3.9" height="2.9" fill="#ff1414" stroke="none" stroke-width="0"/>
<rect x="102.4" y="285.5" width="3.9" height="2.9" fill="#ff1414" stroke="none" stroke-width="0"/>
<rect x="95.2" y="285.9" width="3.9" height="2.9" fill="#ff1414" stroke="none" stroke-width="0"/>
<rect x="95.1" y="286.2" width="3.9" height="2.9" fill="#ff1414" stroke="none" stroke-width="0"/>
<rect x="100.0" y="286.6" width="3.9" height="2.9" fill="#ff1414" stroke="none" stroke-width="0"/>
<rect x="97.5" y="288.0" width="3.9" height="2.9" fill="#ff1414" stroke="none" stroke-width="0"/>
<rect x="100.8" y="288.1" width="3.9" height="2.9" fill="#ff1414" stroke="none" stroke-width="0"/>
<rect x="101.8" y="288.6" width="3.9" height="2.9" fill="#ff1414" stroke="none" stroke-width="0"/>
<rect x="102.3" y="289.2" width="3.9" height="2.9" fill="#ff1414" stroke="none" stroke-width="0"/>
<rect x="93.8" y="291.1" width="3.9" height="2.9" fill="#ff1414" stroke="none" stroke-width="0"/>
<rect x="96.9" y="291.7" width="3.9" height="2.9" fill="#ff1414" stroke="none" stroke-width="0"/>
<rect x="100.1" y="291.9" width="3.9" height="2.9" fill="#ff1414" stroke="none" stroke-width="0"/>
<rect x="100.4" y="292.5" width="3.9" height="2.9" fill="#ff1414" stroke="none" stroke-width="0"/>
<rect x="103.7" y="292.6" width="3.9" height="2.9" fill="#ff1414" stroke="none" stroke-width="0"/>
<rect x="97.9" y="292.7" width="3.9" height="2.9" fill="#ff1414" stroke="none" stroke-width="0"/>
<rect x="95.4" y="294.7" width="3.9" height="2.9" fill="#ff1414" stroke="none" stroke-width="0"/>
<rect x="97.3" y="295.2" width="3.9" height="2.9" fill="#ff1414" stroke="none" stroke-width="0"/>
<rect x="95.2" y="295.4" width="3.9" height="2.9" fill="#ff1414" stroke="none" stroke-width="0"/>
<rect x="103.6" y="295.6" width="3.9" height="2.9" fill="#ff1414" stroke="none" stroke-width="0"/>
<rect x="96.1" y="296.4" width="3.9" height="2.9" fill="#ff1414" stroke="none" stroke-width="0"/>
<rect x="96.5" y="296.8" width="3.9" height="2.9" fill="#ff1414" stroke="none" stroke-width="0"/>
<rect x="98.3" y="297.2" width="3.9" height="2.9" fill="#ff1414" stroke="none" stroke-width="0"/>
<rect x="101.1" y="297.6" width="3.9" height="2.9" fill="#ff1414" stroke="none" stroke-width="0"/>
<rect x="94.8" y="300.4" width="3.9" height="2.9" fill="#ff1414" stroke="none" stroke-width="0"/>
<rect x="102.7" y="301.1" width="3.9" height="2.9" fill="#ff1414" stroke="none" stroke-width="0"/>
<rect x="96.9" y="301.2" width="3.9" height="2.9" fill="#ff1414" stroke="none" stroke-width="0"/>
<rect x="102.4" y="301.8" width="3.9" height="2.9" fill="#ff1414" stroke="none" stroke-width="0"/>
<rect x="95.8" y="302.7" width="3.9" height="2.9" fill="#ff1414" stroke="none" stroke-width="0"/>
<rect x="96.7" y="304.6" width="3.9" height="2.9" fill="#ff1414" stroke="none" stroke-width="0"/>
<rect x="95.0" y="304.8" width="3.9" height="2.9" fill="#ff1414" stroke="none" stroke-width="0"/>
<rect x="99.8" y="305.3" width="3.9" height="2.9" fill="#ff1414" stroke="none" stroke-width="0"/>
<rect x="101.1" y="305.7" width="3.9" height="2.9" fill="#ff1414" stroke="none" stroke-width="0"/>
<rect x="100.4" y="305.8" width="3.9" height="2.9" fill="#ff1414" stroke="none" stroke-width="0"/>
<rect x="99.4" y="306.2" width="3.9" height="2.9" fill="#ff1414" stroke="none" stroke-width="0"/>
<rect x="97.7" y="307.4" width="3.9" height="2.9" fill="#ff1414" stroke="none" stroke-width="0"/>
<rect x="96.5" y="308.3" width="3.9" height="2.9" fill="#ff1414" stroke="none" stroke-width="0"/>
<rect x="98.6" y="308.7" width="3.9" height="2.9" fill="#ff1414" stroke="none" stroke-width="0"/>
<rect x="99.2" y="310.9" width="3.9" height="2.9" fill="#ff1414" stroke="none" stroke-width="0"/>
<rect x="98.8" y="313.0" width="3.9" height="2.9" fill="#ff1414" stroke="none" stroke-width="0"/>
<polygon points="132.5,246.8 130.1,250.4 134.9,250.4" fill="#44ee11"/>
<polygon points="132.5,256.9 130.1,260.7 134.9,260.7" fill="#44ee11"/>
<polygon points="133.0,259.7 130.6,263.4 135.4,263.4" fill="#44ee11"/>
<polygon points="133.4,260.2 131.0,263.9 135.8,263.9" fill="#44ee11"/>
<polygon points="132.1,260.6 129.7,264.3 134.5,264.3" fill="#44ee11"/>
<polygon points="133.7,260.8 131.3,264.5 136.1,264.5" fill="#44ee11"/>
<polygon points="133.9,262.1 131.5,265.8 136.3,265.8" fill="#44ee11"/>
<polygon points="130.4,264.0 128.0,267.7 132.8,267.7" fill="#44ee11"/>
<polygon points="131.8,264.9 129.4,268.6 134.2,268.6" fill="#44ee11"/>
<polygon points="130.1,266.6 127.7,270.3 132.5,270.3" fill="#44ee11"/>
<polygon points="133.8,267.0 131.4,270.7 136.2,270.7" fill="#44ee11"/>
<polygon points="131.9,267.4 129.5,271.1 134.3,271.1" fill="#44ee11"/>
<polygon points="130.2,267.6 127.8,271.3 132.6,271.3" fill="#44ee11"/>
<polygon points="136.2,268.6 133.8,272.3 138.6,272.3" fill="#44ee11"/>
<polygon points="130.7,269.0 128.3,272.7 133.1,272.7" fill="#44ee11"/>
<polygon points="134.9,269.1 132.5,272.8 137.3,272.8" fill="#44ee11"/>
<polygon points="128.5,269.5 126.1,273.2 130.9,273.2" fill="#44ee11"/>
<polygon points="133.3,270.4 130.9,274.1 135.7,274.1" fill="#44ee11"/>
<polygon points="132.6,271.3 130.2,275.0 135.0,275.0" fill="#44ee11"/>
<polygon points="130.2,271.6 127.8,275.3 132.6,275.3" fill="#44ee11"/>
<polygon points="135.6,272.4 133.2,276.1 138.0,276.1" fill="#44ee11"/>
<polygon points="134.2,273.2 131.8,276.9 136.6,276.9" fill="#44ee11"/>
<polygon points="130.7,273.4 128.3,277.1 133.1,277.1" fill="#44ee11"/>
<polygon points="135.3,273.6 132.9,277.3 137.7,277.3" fill="#44ee11"/>
<polygon points="137.4,273.6 135.0,277.3 139.8,277.3" fill="#44ee11"/>
<polygon points="131.3,274.4 128.9,278.1 133.7,278.1" fill="#44ee11"/>
<polygon points="135.5,275.0 133.1,278.7 137.9,278.7" fill="#44ee11"/>
<polygon points="134.7,275.2 132.3,278.9 137.1,278.9" fill="#44ee11"/>
<polygon points="132.0,275.4 129.6,279.1 134.4,279.1" fill="#44ee11"/>
<polygon points="128.6,276.4 126.2,280.1 131.0,280.1" fill="#44ee11"/>
<polygon points="129.1,277.0 126.7,280.7 131.5,280.7" fill="#44ee11"/>
<polygon points="134.4,277.2 132.0,280.9 136.8,280.9" fill="#44ee11"/>
<polygon points="136.5,277.3 134.1,281.0 138.9,281.0" fill="#44ee11"/>
<polygon points="131.0,277.8 128.6,281.5 133.4,281.5" fill="#44ee11"/>
<polygon points="137.8,278.7 135.4,282.4 140.2,282.4" fill="#44ee11"/>
<polygon points="138.1,278.9 135.7,282.6 140.5,282.6" fill="#44ee11"/>
<polygon points="130.4,278.9 128.0,282.6 132.8,282.6" fill="#44ee11"/>
<polygon points="135.6,279.8 133.2,283.5 138.0,283.5" fill="#44ee11"/>
<polygon points="130.1,280.0 127.7,283.7 132.5,283.7" fill="#44ee11"/>
<polygon points="131.2,280.1 128.8,283.8 133.6,283.8" fill="#44ee11"/>
<polygon points="139.0,280.2 136.6,283.9 141.4,283.9" fill="#44ee11"/>
<polygon points="137.4,280.2 135.0,283.9 139.8,283.9" fill="#44ee11"/>
<polygon points="136.5,280.3 134.1,284.0 138.9,284.0" fill="#44ee11"/>
<polygon points="137.4,281.5 135.0,285.2 139.8,285.2" fill="#44ee11"/>
<polygon points="133.1,281.7 130.7,285.4 135.5,285.4" fill="#44ee11"/>
<polygon points="134.3,282.4 131.9,286.1 136.7,286.1" fill="#44ee11"/>
<polygon points="130.1,283.7 127.7,287.4 132.5,287.4" fill="#44ee11"/>
<polygon points="134.6,283.9 132.2,287.6 137.0,287.6" fill="#44ee11"/>
<polygon points="137.1,283.9 134.7,287.6 139.5,287.6" fill="#44ee11"/>
<polygon points="128.6,284.1 126.2,287.8 131.0,287.8" fill="#44ee11"/>
<polygon points="133.8,284.4 131.4,288.1 136.2,288.1" fill="#44ee11"/>
<polygon points="135.5,284.9 133.1,288.6 137.9,288.6" fill="#44ee11"/>
<polygon points="138.2,286.1 135.8,289.8 140.6,289.8" fill="#44ee11"/>
<polygon points="135.5,286.7 133.1,290.4 137.9,290.4" fill="#44ee11"/>
<polygon points="136.9,286.7 134.5,290.4 139.3,290.4" fill="#44ee11"/>
<polygon points="125.6,286.8 123.2,290.5 128.0,290.5" fill="#44ee11"/>
<polygon points="129.2,286.8 126.8,290.5 131.6,290.5" fill="#44ee11"/>
<polygon points="135.9,287.7 133.5,291.4 138.3,291.4" fill="#44ee11"/>
<polygon points="137.9,288.2 135.5,291.9 140.3,291.9" fill="#44ee11"/>
<polygon points="127.6,288.2 125.2,291.9 130.0,291.9" fill="#44ee11"/>
<polygon points="130.1,288.4 127.7,292.1 132.5,292.1" fill="#44ee11"/>
<polygon points="140.5,288.7 138.1,292.4 142.9,292.4" fill="#44ee11"/>
<polygon points="136.1,289.0 133.7,292.7 138.5,292.7" fill="#44ee11"/>
<polygon points="131.2,290.1 128.8,293.8 133.6,293.8" fill="#44ee11"/>
<polygon points="131.0,290.2 128.6,293.9 133.4,293.9" fill="#44ee11"/>
<polygon points="133.3,290.3 130.9,294.0 135.7,294.0" fill="#44ee11"/>
<polygon points="127.0,290.6 124.6,294.3 129.4,294.3" fill="#44ee11"/>
<polygon points="125.8,290.7 123.4,294.4 128.2,294.4" fill="#44ee11"/>
<polygon points="130.8,292.8 128.4,296.5 133.2,296.5" fill="#44ee11"/>
<polygon points="138.7,293.9 136.3,297.6 141.1,297.6" fill="#44ee11"/>
<polygon points="125.3,294.0 122.9,297.7 127.7,297.7" fill="#44ee11"/>
<polygon points="135.4,294.0 133.0,297.7 137.8,297.7" fill="#44ee11"/>
<polygon points="133.5,294.7 131.1,298.4 135.9,298.4" fill="#44ee11"/>
<polygon points="140.1,294.9 137.7,298.6 142.5,298.6" fill="#44ee11"/>
<polygon points="140.1,295.4 137.7,299.1 142.5,299.1" fill="#44ee11"/>
<polygon points="135.0,296.0 132.6,299.7 137.4,299.7" fill="#44ee11"/>
<polygon points="133.3,296.2 130.9,299.9 135.7,299.9" fill="#44ee11"/>
<polygon points="134.6,296.3 132.2,300.0 137.0,300.0" fill="#44ee11"/>
<polygon points="133.0,296.9 130.6,300.6 135.4,300.6" fill="#44ee11"/>
<polygon points="130.8,297.4 128.4,301.1 133.2,301.1" fill="#44ee11"/>
<polygon points="133.7,297.6 131.3,301.3 136.1,301.3" fill="#44ee11"/>
<polygon points="128.8,298.2 126.4,301.9 131.2,301.9" fill="#44ee11"/>
<polygon points="136.5,298.6 134.1,302.3 138.9,302.3" fill="#44ee11"/>
<polygon points="127.2,298.8 124.8,302.5 129.6,302.5" fill="#44ee11"/>
<polygon points="126.5,298.9 124.1,302.6 128.9,302.6" fill="#44ee11"/>
<polygon points="137.4,300.3 135.0,304.0 139.8,304.0" fill="#44ee11"/>
<polygon points="139.2,300.6 136.8,304.3 141.6,304.3" fill="#44ee11"/>
<polygon points="126.8,301.8 124.4,305.5 129.2,305.5" fill="#44ee11"/>
<polygon points="133.8,303.3 131.4,307.0 136.2,307.0" fill="#44ee11"/>
<polygon points="134.6,303.3 132.2,307.0 137.0,307.0" fill="#44ee11"/>
<polygon points="130.6,303.8 128.2,307.5 133.0,307.5" fill="#44ee11"/>
<polygon points="133.9,304.6 131.5,308.3 136.3,308.3" fill="#44ee11"/>
<polygon points="136.2,305.8 133.8,309.5 138.6,309.5" fill="#44ee11"/>
<polygon points="133.2,307.4 130.8,311.1 135.6,311.1" fill="#44ee11"/>
<polygon points="135.4,307.5 133.0,311.2 137.8,311.2" fill="#44ee11"/>
<polygon points="131.8,310.6 129.4,314.3 134.2,314.3" fill="#44ee11"/>
<polygon points="131.7,311.2 129.3,314.9 134.1,314.9" fill="#44ee11"/>
<polygon points="133.6,311.7 131.2,315.4 136.0,315.4" fill="#44ee11"/>
<polygon points="132.6,312.0 130.2,315.7 135.0,315.7" fill="#44ee11"/>
<polygon points="132.8,313.9 130.4,317.6 135.2,317.6" fill="#44ee11"/>
<polygon points="132.8,314.1 130.4,317.8 135.2,317.8" fill="#44ee11"/>
<polygon points="133.2,314.6 130.8,318.3 135.6,318.3" fill="#44ee11"/>
<line x1="165.3" y1="273.4" x2="165.3" y2="301.6" stroke="#ff33ff" stroke-width="1.0"/>
<line x1="160.3" y1="273.4" x2="170.3" y2="273.4" stroke="#ff33ff" stroke-width="1.0"/>
<line x1="160.3" y1="301.6" x2="170.3" y2="301.6" stroke="#ff33ff" stroke-width="1.0"/>
<polygon points="165.2,262.9 162.6,259.1 167.8,259.1" fill="#ff33ff"/>
<polygon points="158.0,278.2 155.4,274.4 160.6,274.4" fill="#ff33ff"/>
<polygon points="172.3,277.7 169.7,273.9 174.9,273.9" fill="#ff33ff"/>
<polygon points="165.2,282.5 162.6,278.7 167.8,278.7" fill="#ff33ff"/>
<polygon points="158.0,286.6 155.4,282.8 160.6,282.8" fill="#ff33ff"/>
<polygon points="172.3,286.1 169.7,282.3 174.9,282.3" fill="#ff33ff"/>
<polygon points="165.2,292.8 162.6,289.0 167.8,289.0" fill="#ff33ff"/>
<polygon points="158.0,298.8 155.4,295.0 160.6,295.0" fill="#ff33ff"/>
<polygon points="165.2,302.8 162.6,299.0 167.8,299.0" fill="#ff33ff"/>
<polygon points="172.3,304.0 169.7,300.2 174.9,300.2" fill="#ff33ff"/>
<polygon points="165.2,310.7 162.6,306.9 167.8,306.9" fill="#ff33ff"/>
<text x="225.4" y="217.8" font-family="Liberation Serif" font-size="16.5" font-weight="bold" fill="#000" text-anchor="start">C</text>
<path d="M238.2,330.6 V287.9 H256.4 V330.6" fill="none" stroke="#0a0aff" stroke-width="2.1"/>
<path d="M270.6,330.6 V295.1 H289.6 V330.6" fill="none" stroke="#ff1414" stroke-width="2.1"/>
<path d="M302.9,330.6 V294.3 H321.6 V330.6" fill="none" stroke="#44ee11" stroke-width="2.1"/>
<path d="M335.2,330.6 V296.9 H353.9 V330.6" fill="none" stroke="#ff33ff" stroke-width="2.1"/>
<line x1="226.2" y1="221.7" x2="226.2" y2="331.2" stroke="#000" stroke-width="1.35"/>
<line x1="219.6" y1="330.6" x2="366.5" y2="330.6" stroke="#000" stroke-width="1.35"/>
<line x1="219.6" y1="330.6" x2="226.2" y2="330.6" stroke="#000" stroke-width="1.25"/>
<text x="218.6" y="333.9" font-family="Liberation Sans" font-size="9.3" font-weight="bold" fill="#000" text-anchor="end" textLength="5.8" lengthAdjust="spacingAndGlyphs">0</text>
<line x1="219.6" y1="294.5" x2="226.2" y2="294.5" stroke="#000" stroke-width="1.25"/>
<text x="218.6" y="297.8" font-family="Liberation Sans" font-size="9.3" font-weight="bold" fill="#000" text-anchor="end" textLength="11.8" lengthAdjust="spacingAndGlyphs">20</text>
<line x1="219.6" y1="258.4" x2="226.2" y2="258.4" stroke="#000" stroke-width="1.25"/>
<text x="218.6" y="261.7" font-family="Liberation Sans" font-size="9.3" font-weight="bold" fill="#000" text-anchor="end" textLength="11.8" lengthAdjust="spacingAndGlyphs">40</text>
<line x1="219.6" y1="222.3" x2="226.2" y2="222.3" stroke="#000" stroke-width="1.25"/>
<text x="218.6" y="225.6" font-family="Liberation Sans" font-size="9.3" font-weight="bold" fill="#000" text-anchor="end" textLength="11.8" lengthAdjust="spacingAndGlyphs">60</text>
<line x1="247.4" y1="330.6" x2="247.4" y2="335.5" stroke="#000" stroke-width="1.5"/>
<line x1="280.0" y1="330.6" x2="280.0" y2="335.5" stroke="#000" stroke-width="1.5"/>
<line x1="312.2" y1="330.6" x2="312.2" y2="335.5" stroke="#000" stroke-width="1.5"/>
<line x1="344.7" y1="330.6" x2="344.7" y2="335.5" stroke="#000" stroke-width="1.5"/>
<text x="234.5" y="344.1" font-family="Liberation Sans" font-size="9.2" font-weight="bold" fill="#000" text-anchor="start" textLength="25.9" lengthAdjust="spacingAndGlyphs">40-49</text>
<text x="267.0" y="344.1" font-family="Liberation Sans" font-size="9.2" font-weight="bold" fill="#000" text-anchor="start" textLength="25.9" lengthAdjust="spacingAndGlyphs">50-59</text>
<text x="299.4" y="344.1" font-family="Liberation Sans" font-size="9.2" font-weight="bold" fill="#000" text-anchor="start" textLength="25.9" lengthAdjust="spacingAndGlyphs">60-69</text>
<text x="331.8" y="344.1" font-family="Liberation Sans" font-size="9.2" font-weight="bold" fill="#000" text-anchor="start" textLength="25.9" lengthAdjust="spacingAndGlyphs">70-79</text>
<text x="227.4" y="352.7" font-family="Liberation Serif" font-size="10.4" font-weight="normal" fill="#111" text-anchor="start" textLength="119.4" lengthAdjust="spacingAndGlyphs">Hippocampus-PTPRS</text>
<text transform="translate(201.2,276.2) scale(1.4,1) rotate(-90)" font-family="Liberation Sans" font-size="8.67" font-weight="bold" text-anchor="middle" fill="#000">nTPM</text>
<line x1="247.6" y1="203.7" x2="315.0" y2="203.7" stroke="#222" stroke-width="1.4"/>
<path d="M280.9,193.5 V199.3 M277.6,194.3 L284.2,198.5 M277.6,198.5 L284.2,194.3" stroke="#000" stroke-width="1.3" fill="none"/>
<line x1="246.0" y1="218.8" x2="286.5" y2="218.8" stroke="#222" stroke-width="1.4"/>
<path d="M266.3,208.6 V214.4 M263.0,209.4 L269.6,213.6 M263.0,213.6 L269.6,209.4" stroke="#000" stroke-width="1.3" fill="none"/>
<text x="243.5" y="226.4" font-family="Liberation Serif" font-size="7.2" font-weight="normal" fill="#ff2c2c" text-anchor="start" textLength="20.2" lengthAdjust="spacingAndGlyphs">24.04</text>
<text x="268.3" y="258.2" font-family="Liberation Serif" font-size="7.2" font-weight="normal" fill="#ff2c2c" text-anchor="start" textLength="19.7" lengthAdjust="spacingAndGlyphs">20.00</text>
<text x="300.8" y="239.8" font-family="Liberation Serif" font-size="7.2" font-weight="normal" fill="#ff2c2c" text-anchor="start" textLength="20.2" lengthAdjust="spacingAndGlyphs">20.50</text>
<text x="326.8" y="253.2" font-family="Liberation Serif" font-size="7.2" font-weight="normal" fill="#ff2c2c" text-anchor="start" textLength="19.7" lengthAdjust="spacingAndGlyphs">18.97</text>
<line x1="247.4" y1="267.6" x2="247.4" y2="305.8" stroke="#0a0aff" stroke-width="1.0"/>
<line x1="242.1" y1="267.6" x2="252.7" y2="267.6" stroke="#0a0aff" stroke-width="1.0"/>
<line x1="242.1" y1="305.8" x2="252.7" y2="305.8" stroke="#0a0aff" stroke-width="1.0"/>
<ellipse cx="247.1" cy="232.6" rx="2.7" ry="2.15" fill="#0a0aff"/>
<ellipse cx="246.3" cy="251.7" rx="2.7" ry="2.15" fill="#0a0aff"/>
<ellipse cx="249.1" cy="252.6" rx="2.7" ry="2.15" fill="#0a0aff"/>
<ellipse cx="247.3" cy="264.7" rx="2.7" ry="2.15" fill="#0a0aff"/>
<ellipse cx="245.2" cy="270.1" rx="2.7" ry="2.15" fill="#0a0aff"/>
<ellipse cx="241.8" cy="274.8" rx="2.7" ry="2.15" fill="#0a0aff"/>
<ellipse cx="246.8" cy="274.3" rx="2.7" ry="2.15" fill="#0a0aff"/>
<ellipse cx="251.0" cy="273.8" rx="2.7" ry="2.15" fill="#0a0aff"/>
<ellipse cx="249.4" cy="276.8" rx="2.7" ry="2.15" fill="#0a0aff"/>
<ellipse cx="253.6" cy="276.8" rx="2.7" ry="2.15" fill="#0a0aff"/>
<ellipse cx="246.8" cy="280.2" rx="2.7" ry="2.15" fill="#0a0aff"/>
<ellipse cx="244.3" cy="283.6" rx="2.7" ry="2.15" fill="#0a0aff"/>
<ellipse cx="247.7" cy="283.6" rx="2.7" ry="2.15" fill="#0a0aff"/>
<ellipse cx="242.6" cy="285.6" rx="2.7" ry="2.15" fill="#0a0aff"/>
<ellipse cx="251.9" cy="286.1" rx="2.7" ry="2.15" fill="#0a0aff"/>
<ellipse cx="245.2" cy="289.5" rx="2.7" ry="2.15" fill="#0a0aff"/>
<ellipse cx="250.2" cy="290.3" rx="2.7" ry="2.15" fill="#0a0aff"/>
<ellipse cx="241.8" cy="295.4" rx="2.7" ry="2.15" fill="#0a0aff"/>
<ellipse cx="246.8" cy="294.5" rx="2.7" ry="2.15" fill="#0a0aff"/>
<ellipse cx="252.7" cy="294.5" rx="2.7" ry="2.15" fill="#0a0aff"/>
<ellipse cx="243.5" cy="297.9" rx="2.7" ry="2.15" fill="#0a0aff"/>
<ellipse cx="250.2" cy="297.9" rx="2.7" ry="2.15" fill="#0a0aff"/>
<ellipse cx="247.7" cy="301.2" rx="2.7" ry="2.15" fill="#0a0aff"/>
<ellipse cx="252.7" cy="300.4" rx="2.7" ry="2.15" fill="#0a0aff"/>
<ellipse cx="245.2" cy="304.1" rx="2.7" ry="2.15" fill="#0a0aff"/>
<ellipse cx="242.6" cy="308.0" rx="2.7" ry="2.15" fill="#0a0aff"/>
<ellipse cx="246.8" cy="307.5" rx="2.7" ry="2.15" fill="#0a0aff"/>
<ellipse cx="247.7" cy="313.0" rx="2.7" ry="2.15" fill="#0a0aff"/>
<ellipse cx="251.9" cy="313.5" rx="2.7" ry="2.15" fill="#0a0aff"/>
<rect x="277.8" y="266.4" width="3.9" height="2.9" fill="#ff1414" stroke="none" stroke-width="0"/>
<rect x="277.8" y="267.1" width="3.9" height="2.9" fill="#ff1414" stroke="none" stroke-width="0"/>
<rect x="278.9" y="267.6" width="3.9" height="2.9" fill="#ff1414" stroke="none" stroke-width="0"/>
<rect x="278.3" y="267.9" width="3.9" height="2.9" fill="#ff1414" stroke="none" stroke-width="0"/>
<rect x="278.8" y="268.0" width="3.9" height="2.9" fill="#ff1414" stroke="none" stroke-width="0"/>
<rect x="277.6" y="268.3" width="3.9" height="2.9" fill="#ff1414" stroke="none" stroke-width="0"/>
<rect x="276.9" y="268.9" width="3.9" height="2.9" fill="#ff1414" stroke="none" stroke-width="0"/>
<rect x="276.3" y="269.6" width="3.9" height="2.9" fill="#ff1414" stroke="none" stroke-width="0"/>
<rect x="279.6" y="270.0" width="3.9" height="2.9" fill="#ff1414" stroke="none" stroke-width="0"/>
<rect x="276.1" y="270.0" width="3.9" height="2.9" fill="#ff1414" stroke="none" stroke-width="0"/>
<rect x="275.9" y="270.8" width="3.9" height="2.9" fill="#ff1414" stroke="none" stroke-width="0"/>
<rect x="278.7" y="271.1" width="3.9" height="2.9" fill="#ff1414" stroke="none" stroke-width="0"/>
<rect x="275.6" y="271.3" width="3.9" height="2.9" fill="#ff1414" stroke="none" stroke-width="0"/>
<rect x="278.2" y="272.7" width="3.9" height="2.9" fill="#ff1414" stroke="none" stroke-width="0"/>
<rect x="278.2" y="272.7" width="3.9" height="2.9" fill="#ff1414" stroke="none" stroke-width="0"/>
<rect x="279.6" y="273.1" width="3.9" height="2.9" fill="#ff1414" stroke="none" stroke-width="0"/>
<rect x="277.2" y="273.2" width="3.9" height="2.9" fill="#ff1414" stroke="none" stroke-width="0"/>
<rect x="278.1" y="273.5" width="3.9" height="2.9" fill="#ff1414" stroke="none" stroke-width="0"/>
<rect x="279.4" y="273.7" width="3.9" height="2.9" fill="#ff1414" stroke="none" stroke-width="0"/>
<rect x="280.6" y="273.8" width="3.9" height="2.9" fill="#ff1414" stroke="none" stroke-width="0"/>
<rect x="274.8" y="274.8" width="3.9" height="2.9" fill="#ff1414" stroke="none" stroke-width="0"/>
<rect x="278.5" y="275.4" width="3.9" height="2.9" fill="#ff1414" stroke="none" stroke-width="0"/>
<rect x="274.5" y="275.4" width="3.9" height="2.9" fill="#ff1414" stroke="none" stroke-width="0"/>
<rect x="277.9" y="275.6" width="3.9" height="2.9" fill="#ff1414" stroke="none" stroke-width="0"/>
<rect x="274.8" y="275.6" width="3.9" height="2.9" fill="#ff1414" stroke="none" stroke-width="0"/>
<rect x="282.0" y="276.2" width="3.9" height="2.9" fill="#ff1414" stroke="none" stroke-width="0"/>
<rect x="279.0" y="276.4" width="3.9" height="2.9" fill="#ff1414" stroke="none" stroke-width="0"/>
<rect x="277.5" y="276.6" width="3.9" height="2.9" fill="#ff1414" stroke="none" stroke-width="0"/>
<rect x="277.1" y="276.9" width="3.9" height="2.9" fill="#ff1414" stroke="none" stroke-width="0"/>
<rect x="277.3" y="278.0" width="3.9" height="2.9" fill="#ff1414" stroke="none" stroke-width="0"/>
<rect x="278.0" y="278.1" width="3.9" height="2.9" fill="#ff1414" stroke="none" stroke-width="0"/>
<rect x="281.6" y="278.1" width="3.9" height="2.9" fill="#ff1414" stroke="none" stroke-width="0"/>
<rect x="281.9" y="278.2" width="3.9" height="2.9" fill="#ff1414" stroke="none" stroke-width="0"/>
<rect x="275.2" y="278.2" width="3.9" height="2.9" fill="#ff1414" stroke="none" stroke-width="0"/>
<rect x="277.6" y="278.3" width="3.9" height="2.9" fill="#ff1414" stroke="none" stroke-width="0"/>
<rect x="274.4" y="278.5" width="3.9" height="2.9" fill="#ff1414" stroke="none" stroke-width="0"/>
<rect x="280.3" y="278.9" width="3.9" height="2.9" fill="#ff1414" stroke="none" stroke-width="0"/>
<rect x="281.5" y="279.0" width="3.9" height="2.9" fill="#ff1414" stroke="none" stroke-width="0"/>
<rect x="276.6" y="279.0" width="3.9" height="2.9" fill="#ff1414" stroke="none" stroke-width="0"/>
<rect x="279.9" y="279.0" width="3.9" height="2.9" fill="#ff1414" stroke="none" stroke-width="0"/>
<rect x="282.4" y="279.0" width="3.9" height="2.9" fill="#ff1414" stroke="none" stroke-width="0"/>
<rect x="273.7" y="279.5" width="3.9" height="2.9" fill="#ff1414" stroke="none" stroke-width="0"/>
<rect x="278.6" y="280.2" width="3.9" height="2.9" fill="#ff1414" stroke="none" stroke-width="0"/>
<rect x="273.7" y="280.7" width="3.9" height="2.9" fill="#ff1414" stroke="none" stroke-width="0"/>
<rect x="283.4" y="280.9" width="3.9" height="2.9" fill="#ff1414" stroke="none" stroke-width="0"/>
<rect x="283.2" y="280.9" width="3.9" height="2.9" fill="#ff1414" stroke="none" stroke-width="0"/>
<rect x="273.0" y="281.0" width="3.9" height="2.9" fill="#ff1414" stroke="none" stroke-width="0"/>
<rect x="281.9" y="281.9" width="3.9" height="2.9" fill="#ff1414" stroke="none" stroke-width="0"/>
<rect x="283.8" y="282.5" width="3.9" height="2.9" fill="#ff1414" stroke="none" stroke-width="0"/>
<rect x="277.2" y="282.9" width="3.9" height="2.9" fill="#ff1414" stroke="none" stroke-width="0"/>
<rect x="272.9" y="282.9" width="3.9" height="2.9" fill="#ff1414" stroke="none" stroke-width="0"/>
<rect x="275.4" y="283.3" width="3.9" height="2.9" fill="#ff1414" stroke="none" stroke-width="0"/>
<rect x="271.7" y="283.4" width="3.9" height="2.9" fill="#ff1414" stroke="none" stroke-width="0"/>
<rect x="274.4" y="283.5" width="3.9" height="2.9" fill="#ff1414" stroke="none" stroke-width="0"/>
<rect x="276.7" y="283.8" width="3.9" height="2.9" fill="#ff1414" stroke="none" stroke-width="0"/>
<rect x="279.6" y="284.0" width="3.9" height="2.9" fill="#ff1414" stroke="none" stroke-width="0"/>
<rect x="283.2" y="284.5" width="3.9" height="2.9" fill="#ff1414" stroke="none" stroke-width="0"/>
<rect x="273.1" y="285.1" width="3.9" height="2.9" fill="#ff1414" stroke="none" stroke-width="0"/>
<rect x="277.8" y="285.1" width="3.9" height="2.9" fill="#ff1414" stroke="none" stroke-width="0"/>
<rect x="282.0" y="285.2" width="3.9" height="2.9" fill="#ff1414" stroke="none" stroke-width="0"/>
<rect x="281.5" y="286.6" width="3.9" height="2.9" fill="#ff1414" stroke="none" stroke-width="0"/>
<rect x="281.7" y="287.0" width="3.9" height="2.9" fill="#ff1414" stroke="none" stroke-width="0"/>
<rect x="275.0" y="287.1" width="3.9" height="2.9" fill="#ff1414" stroke="none" stroke-width="0"/>
<rect x="277.2" y="287.2" width="3.9" height="2.9" fill="#ff1414" stroke="none" stroke-width="0"/>
<rect x="282.3" y="287.2" width="3.9" height="2.9" fill="#ff1414" stroke="none" stroke-width="0"/>
<rect x="273.4" y="287.3" width="3.9" height="2.9" fill="#ff1414" stroke="none" stroke-width="0"/>
<rect x="276.0" y="287.6" width="3.9" height="2.9" fill="#ff1414" stroke="none" stroke-width="0"/>
<rect x="274.1" y="287.8" width="3.9" height="2.9" fill="#ff1414" stroke="none" stroke-width="0"/>
<rect x="281.7" y="287.9" width="3.9" height="2.9" fill="#ff1414" stroke="none" stroke-width="0"/>
<rect x="277.0" y="288.0" width="3.9" height="2.9" fill="#ff1414" stroke="none" stroke-width="0"/>
<rect x="271.2" y="288.1" width="3.9" height="2.9" fill="#ff1414" stroke="none" stroke-width="0"/>
<rect x="282.0" y="288.6" width="3.9" height="2.9" fill="#ff1414" stroke="none" stroke-width="0"/>
<rect x="274.5" y="288.6" width="3.9" height="2.9" fill="#ff1414" stroke="none" stroke-width="0"/>
<rect x="285.7" y="288.6" width="3.9" height="2.9" fill="#ff1414" stroke="none" stroke-width="0"/>
<rect x="284.2" y="288.6" width="3.9" height="2.9" fill="#ff1414" stroke="none" stroke-width="0"/>
<rect x="279.0" y="288.7" width="3.9" height="2.9" fill="#ff1414" stroke="none" stroke-width="0"/>
<rect x="273.4" y="288.7" width="3.9" height="2.9" fill="#ff1414" stroke="none" stroke-width="0"/>
<rect x="270.7" y="289.1" width="3.9" height="2.9" fill="#ff1414" stroke="none" stroke-width="0"/>
<rect x="274.5" y="289.8" width="3.9" height="2.9" fill="#ff1414" stroke="none" stroke-width="0"/>
<rect x="283.2" y="289.9" width="3.9" height="2.9" fill="#ff1414" stroke="none" stroke-width="0"/>
<rect x="283.3" y="290.1" width="3.9" height="2.9" fill="#ff1414" stroke="none" stroke-width="0"/>
<rect x="282.5" y="290.2" width="3.9" height="2.9" fill="#ff1414" stroke="none" stroke-width="0"/>
<rect x="276.9" y="290.2" width="3.9" height="2.9" fill="#ff1414" stroke="none" stroke-width="0"/>
<rect x="274.9" y="290.3" width="3.9" height="2.9" fill="#ff1414" stroke="none" stroke-width="0"/>
<rect x="277.4" y="290.9" width="3.9" height="2.9" fill="#ff1414" stroke="none" stroke-width="0"/>
<rect x="274.0" y="291.0" width="3.9" height="2.9" fill="#ff1414" stroke="none" stroke-width="0"/>
<rect x="279.1" y="291.0" width="3.9" height="2.9" fill="#ff1414" stroke="none" stroke-width="0"/>
<rect x="273.9" y="291.2" width="3.9" height="2.9" fill="#ff1414" stroke="none" stroke-width="0"/>
<rect x="278.3" y="291.5" width="3.9" height="2.9" fill="#ff1414" stroke="none" stroke-width="0"/>
<rect x="283.3" y="291.5" width="3.9" height="2.9" fill="#ff1414" stroke="none" stroke-width="0"/>
<rect x="272.5" y="291.7" width="3.9" height="2.9" fill="#ff1414" stroke="none" stroke-width="0"/>
<rect x="271.1" y="292.3" width="3.9" height="2.9" fill="#ff1414" stroke="none" stroke-width="0"/>
<rect x="279.9" y="292.4" width="3.9" height="2.9" fill="#ff1414" stroke="none" stroke-width="0"/>
<rect x="280.9" y="292.5" width="3.9" height="2.9" fill="#ff1414" stroke="none" stroke-width="0"/>
<rect x="277.1" y="292.7" width="3.9" height="2.9" fill="#ff1414" stroke="none" stroke-width="0"/>
<rect x="277.4" y="292.9" width="3.9" height="2.9" fill="#ff1414" stroke="none" stroke-width="0"/>
<rect x="277.3" y="293.3" width="3.9" height="2.9" fill="#ff1414" stroke="none" stroke-width="0"/>
<rect x="278.6" y="293.5" width="3.9" height="2.9" fill="#ff1414" stroke="none" stroke-width="0"/>
<rect x="279.6" y="293.7" width="3.9" height="2.9" fill="#ff1414" stroke="none" stroke-width="0"/>
<rect x="270.3" y="294.1" width="3.9" height="2.9" fill="#ff1414" stroke="none" stroke-width="0"/>
<rect x="279.9" y="294.4" width="3.9" height="2.9" fill="#ff1414" stroke="none" stroke-width="0"/>
<rect x="283.3" y="294.6" width="3.9" height="2.9" fill="#ff1414" stroke="none" stroke-width="0"/>
<rect x="273.2" y="294.8" width="3.9" height="2.9" fill="#ff1414" stroke="none" stroke-width="0"/>
<rect x="270.8" y="295.1" width="3.9" height="2.9" fill="#ff1414" stroke="none" stroke-width="0"/>
<rect x="277.5" y="295.4" width="3.9" height="2.9" fill="#ff1414" stroke="none" stroke-width="0"/>
<rect x="281.5" y="295.5" width="3.9" height="2.9" fill="#ff1414" stroke="none" stroke-width="0"/>
<rect x="283.4" y="295.6" width="3.9" height="2.9" fill="#ff1414" stroke="none" stroke-width="0"/>
<rect x="270.9" y="295.8" width="3.9" height="2.9" fill="#ff1414" stroke="none" stroke-width="0"/>
<rect x="274.0" y="295.9" width="3.9" height="2.9" fill="#ff1414" stroke="none" stroke-width="0"/>
<rect x="275.8" y="296.0" width="3.9" height="2.9" fill="#ff1414" stroke="none" stroke-width="0"/>
<rect x="284.9" y="296.3" width="3.9" height="2.9" fill="#ff1414" stroke="none" stroke-width="0"/>
<rect x="284.1" y="296.4" width="3.9" height="2.9" fill="#ff1414" stroke="none" stroke-width="0"/>
<rect x="282.5" y="296.7" width="3.9" height="2.9" fill="#ff1414" stroke="none" stroke-width="0"/>
<rect x="280.3" y="296.8" width="3.9" height="2.9" fill="#ff1414" stroke="none" stroke-width="0"/>
<rect x="277.9" y="296.9" width="3.9" height="2.9" fill="#ff1414" stroke="none" stroke-width="0"/>
<rect x="282.3" y="297.0" width="3.9" height="2.9" fill="#ff1414" stroke="none" stroke-width="0"/>
<rect x="272.3" y="297.3" width="3.9" height="2.9" fill="#ff1414" stroke="none" stroke-width="0"/>
<rect x="282.4" y="297.5" width="3.9" height="2.9" fill="#ff1414" stroke="none" stroke-width="0"/>
<rect x="283.9" y="297.6" width="3.9" height="2.9" fill="#ff1414" stroke="none" stroke-width="0"/>
<rect x="278.4" y="298.1" width="3.9" height="2.9" fill="#ff1414" stroke="none" stroke-width="0"/>
<rect x="279.3" y="298.3" width="3.9" height="2.9" fill="#ff1414" stroke="none" stroke-width="0"/>
<rect x="273.0" y="298.5" width="3.9" height="2.9" fill="#ff1414" stroke="none" stroke-width="0"/>
<rect x="278.7" y="299.3" width="3.9" height="2.9" fill="#ff1414" stroke="none" stroke-width="0"/>
<rect x="285.3" y="299.6" width="3.9" height="2.9" fill="#ff1414" stroke="none" stroke-width="0"/>
<rect x="272.1" y="299.6" width="3.9" height="2.9" fill="#ff1414" stroke="none" stroke-width="0"/>
<rect x="276.3" y="299.7" width="3.9" height="2.9" fill="#ff1414" stroke="none" stroke-width="0"/>
<rect x="273.2" y="299.9" width="3.9" height="2.9" fill="#ff1414" stroke="none" stroke-width="0"/>
<rect x="273.0" y="300.4" width="3.9" height="2.9" fill="#ff1414" stroke="none" stroke-width="0"/>
<rect x="279.7" y="300.5" width="3.9" height="2.9" fill="#ff1414" stroke="none" stroke-width="0"/>
<rect x="280.9" y="300.8" width="3.9" height="2.9" fill="#ff1414" stroke="none" stroke-width="0"/>
<rect x="285.1" y="301.0" width="3.9" height="2.9" fill="#ff1414" stroke="none" stroke-width="0"/>
<rect x="272.4" y="301.0" width="3.9" height="2.9" fill="#ff1414" stroke="none" stroke-width="0"/>
<rect x="282.9" y="301.6" width="3.9" height="2.9" fill="#ff1414" stroke="none" stroke-width="0"/>
<rect x="271.4" y="301.7" width="3.9" height="2.9" fill="#ff1414" stroke="none" stroke-width="0"/>
<rect x="281.9" y="301.8" width="3.9" height="2.9" fill="#ff1414" stroke="none" stroke-width="0"/>
<rect x="281.4" y="302.2" width="3.9" height="2.9" fill="#ff1414" stroke="none" stroke-width="0"/>
<rect x="276.9" y="302.5" width="3.9" height="2.9" fill="#ff1414" stroke="none" stroke-width="0"/>
<rect x="282.2" y="302.7" width="3.9" height="2.9" fill="#ff1414" stroke="none" stroke-width="0"/>
<rect x="275.7" y="302.8" width="3.9" height="2.9" fill="#ff1414" stroke="none" stroke-width="0"/>
<rect x="281.0" y="303.0" width="3.9" height="2.9" fill="#ff1414" stroke="none" stroke-width="0"/>
<rect x="280.1" y="303.1" width="3.9" height="2.9" fill="#ff1414" stroke="none" stroke-width="0"/>
<rect x="283.9" y="303.2" width="3.9" height="2.9" fill="#ff1414" stroke="none" stroke-width="0"/>
<rect x="278.4" y="303.3" width="3.9" height="2.9" fill="#ff1414" stroke="none" stroke-width="0"/>
<rect x="279.2" y="303.3" width="3.9" height="2.9" fill="#ff1414" stroke="none" stroke-width="0"/>
<rect x="283.2" y="303.4" width="3.9" height="2.9" fill="#ff1414" stroke="none" stroke-width="0"/>
<rect x="279.6" y="303.4" width="3.9" height="2.9" fill="#ff1414" stroke="none" stroke-width="0"/>
<rect x="275.5" y="303.7" width="3.9" height="2.9" fill="#ff1414" stroke="none" stroke-width="0"/>
<rect x="282.7" y="304.2" width="3.9" height="2.9" fill="#ff1414" stroke="none" stroke-width="0"/>
<rect x="282.2" y="304.4" width="3.9" height="2.9" fill="#ff1414" stroke="none" stroke-width="0"/>
<rect x="279.6" y="304.5" width="3.9" height="2.9" fill="#ff1414" stroke="none" stroke-width="0"/>
<rect x="282.8" y="304.5" width="3.9" height="2.9" fill="#ff1414" stroke="none" stroke-width="0"/>
<rect x="277.4" y="304.9" width="3.9" height="2.9" fill="#ff1414" stroke="none" stroke-width="0"/>
<rect x="273.8" y="305.0" width="3.9" height="2.9" fill="#ff1414" stroke="none" stroke-width="0"/>
<rect x="275.2" y="305.4" width="3.9" height="2.9" fill="#ff1414" stroke="none" stroke-width="0"/>
<rect x="275.6" y="305.9" width="3.9" height="2.9" fill="#ff1414" stroke="none" stroke-width="0"/>
<rect x="279.8" y="306.6" width="3.9" height="2.9" fill="#ff1414" stroke="none" stroke-width="0"/>
<rect x="276.7" y="307.9" width="3.9" height="2.9" fill="#ff1414" stroke="none" stroke-width="0"/>
<rect x="278.9" y="308.0" width="3.9" height="2.9" fill="#ff1414" stroke="none" stroke-width="0"/>
<rect x="278.5" y="308.3" width="3.9" height="2.9" fill="#ff1414" stroke="none" stroke-width="0"/>
<rect x="279.4" y="308.3" width="3.9" height="2.9" fill="#ff1414" stroke="none" stroke-width="0"/>
<rect x="277.6" y="308.5" width="3.9" height="2.9" fill="#ff1414" stroke="none" stroke-width="0"/>
<rect x="275.8" y="308.6" width="3.9" height="2.9" fill="#ff1414" stroke="none" stroke-width="0"/>
<rect x="277.1" y="310.1" width="3.9" height="2.9" fill="#ff1414" stroke="none" stroke-width="0"/>
<rect x="276.5" y="310.3" width="3.9" height="2.9" fill="#ff1414" stroke="none" stroke-width="0"/>
<rect x="278.0" y="312.5" width="3.9" height="2.9" fill="#ff1414" stroke="none" stroke-width="0"/>
<rect x="278.0" y="312.7" width="3.9" height="2.9" fill="#ff1414" stroke="none" stroke-width="0"/>
<rect x="278.0" y="312.7" width="3.9" height="2.9" fill="#ff1414" stroke="none" stroke-width="0"/>
<rect x="278.1" y="315.4" width="3.9" height="2.9" fill="#ff1414" stroke="none" stroke-width="0"/>
<rect x="278.1" y="316.5" width="3.9" height="2.9" fill="#ff1414" stroke="none" stroke-width="0"/>
<rect x="278.0" y="317.9" width="3.9" height="2.9" fill="#ff1414" stroke="none" stroke-width="0"/>
<polygon points="312.5,247.0 310.1,250.7 314.9,250.7" fill="#44ee11"/>
<polygon points="312.5,253.8 310.1,257.6 314.9,257.6" fill="#44ee11"/>
<polygon points="312.5,261.3 310.1,265.1 314.9,265.1" fill="#44ee11"/>
<polygon points="312.5,268.4 310.1,272.2 314.9,272.2" fill="#44ee11"/>
<polygon points="312.4,270.7 310.0,274.4 314.8,274.4" fill="#44ee11"/>
<polygon points="312.4,270.8 310.0,274.5 314.8,274.5" fill="#44ee11"/>
<polygon points="312.4,271.3 310.0,275.0 314.8,275.0" fill="#44ee11"/>
<polygon points="313.4,272.0 311.0,275.7 315.8,275.7" fill="#44ee11"/>
<polygon points="312.5,272.0 310.1,275.7 314.9,275.7" fill="#44ee11"/>
<polygon points="313.3,273.0 310.9,276.7 315.7,276.7" fill="#44ee11"/>
<polygon points="312.8,273.2 310.4,276.9 315.2,276.9" fill="#44ee11"/>
<polygon points="314.5,274.0 312.1,277.7 316.9,277.7" fill="#44ee11"/>
<polygon points="310.3,274.3 307.9,278.0 312.7,278.0" fill="#44ee11"/>
<polygon points="313.4,274.5 311.0,278.2 315.8,278.2" fill="#44ee11"/>
<polygon points="313.7,274.5 311.3,278.2 316.1,278.2" fill="#44ee11"/>
<polygon points="310.1,274.9 307.7,278.6 312.5,278.6" fill="#44ee11"/>
<polygon points="313.5,275.0 311.1,278.7 315.9,278.7" fill="#44ee11"/>
<polygon points="312.3,275.1 309.9,278.8 314.7,278.8" fill="#44ee11"/>
<polygon points="315.2,275.1 312.8,278.8 317.6,278.8" fill="#44ee11"/>
<polygon points="310.9,275.8 308.5,279.5 313.3,279.5" fill="#44ee11"/>
<polygon points="310.2,276.1 307.8,279.8 312.6,279.8" fill="#44ee11"/>
<polygon points="310.7,276.2 308.3,279.9 313.1,279.9" fill="#44ee11"/>
<polygon points="310.0,276.2 307.6,279.9 312.4,279.9" fill="#44ee11"/>
<polygon points="314.6,276.3 312.2,280.0 317.0,280.0" fill="#44ee11"/>
<polygon points="312.1,276.7 309.7,280.4 314.5,280.4" fill="#44ee11"/>
<polygon points="310.5,276.9 308.1,280.6 312.9,280.6" fill="#44ee11"/>
<polygon points="308.5,278.1 306.1,281.8 310.9,281.8" fill="#44ee11"/>
<polygon points="316.1,279.4 313.7,283.1 318.5,283.1" fill="#44ee11"/>
<polygon points="316.1,279.4 313.7,283.1 318.5,283.1" fill="#44ee11"/>
<polygon points="312.8,279.5 310.4,283.2 315.2,283.2" fill="#44ee11"/>
<polygon points="315.0,279.7 312.6,283.4 317.4,283.4" fill="#44ee11"/>
<polygon points="312.4,280.2 310.0,283.9 314.8,283.9" fill="#44ee11"/>
<polygon points="314.2,280.5 311.8,284.2 316.6,284.2" fill="#44ee11"/>
<polygon points="313.5,280.7 311.1,284.4 315.9,284.4" fill="#44ee11"/>
<polygon points="316.1,280.8 313.7,284.5 318.5,284.5" fill="#44ee11"/>
<polygon points="310.0,281.2 307.6,284.9 312.4,284.9" fill="#44ee11"/>
<polygon points="312.6,281.5 310.2,285.2 315.0,285.2" fill="#44ee11"/>
<polygon points="308.6,281.5 306.2,285.2 311.0,285.2" fill="#44ee11"/>
<polygon points="314.2,281.7 311.8,285.4 316.6,285.4" fill="#44ee11"/>
<polygon points="306.7,281.9 304.3,285.6 309.1,285.6" fill="#44ee11"/>
<polygon points="309.5,282.0 307.1,285.7 311.9,285.7" fill="#44ee11"/>
<polygon points="314.4,282.0 312.0,285.7 316.8,285.7" fill="#44ee11"/>
<polygon points="311.6,282.1 309.2,285.8 314.0,285.8" fill="#44ee11"/>
<polygon points="308.7,282.4 306.3,286.1 311.1,286.1" fill="#44ee11"/>
<polygon points="317.8,282.5 315.4,286.2 320.2,286.2" fill="#44ee11"/>
<polygon points="316.5,283.1 314.1,286.8 318.9,286.8" fill="#44ee11"/>
<polygon points="313.1,283.7 310.7,287.4 315.5,287.4" fill="#44ee11"/>
<polygon points="311.2,284.2 308.8,287.9 313.6,287.9" fill="#44ee11"/>
<polygon points="310.9,284.3 308.5,288.0 313.3,288.0" fill="#44ee11"/>
<polygon points="314.3,284.6 311.9,288.3 316.7,288.3" fill="#44ee11"/>
<polygon points="318.6,285.1 316.2,288.8 321.0,288.8" fill="#44ee11"/>
<polygon points="316.5,285.2 314.1,288.9 318.9,288.9" fill="#44ee11"/>
<polygon points="309.7,285.3 307.3,289.0 312.1,289.0" fill="#44ee11"/>
<polygon points="316.4,285.7 314.0,289.4 318.8,289.4" fill="#44ee11"/>
<polygon points="306.1,286.2 303.7,289.9 308.5,289.9" fill="#44ee11"/>
<polygon points="318.5,286.3 316.1,290.0 320.9,290.0" fill="#44ee11"/>
<polygon points="317.0,286.3 314.6,290.0 319.4,290.0" fill="#44ee11"/>
<polygon points="313.3,286.5 310.9,290.2 315.7,290.2" fill="#44ee11"/>
<polygon points="319.4,286.5 317.0,290.2 321.8,290.2" fill="#44ee11"/>
<polygon points="314.7,286.6 312.3,290.3 317.1,290.3" fill="#44ee11"/>
<polygon points="306.1,286.8 303.7,290.5 308.5,290.5" fill="#44ee11"/>
<polygon points="312.1,286.8 309.7,290.5 314.5,290.5" fill="#44ee11"/>
<polygon points="307.9,287.3 305.5,291.0 310.3,291.0" fill="#44ee11"/>
<polygon points="310.9,287.5 308.5,291.2 313.3,291.2" fill="#44ee11"/>
<polygon points="307.3,287.7 304.9,291.4 309.7,291.4" fill="#44ee11"/>
<polygon points="318.9,287.8 316.5,291.5 321.3,291.5" fill="#44ee11"/>
<polygon points="313.6,287.8 311.2,291.5 316.0,291.5" fill="#44ee11"/>
<polygon points="313.2,288.0 310.8,291.7 315.6,291.7" fill="#44ee11"/>
<polygon points="314.9,288.1 312.5,291.8 317.3,291.8" fill="#44ee11"/>
<polygon points="311.0,288.1 308.6,291.8 313.4,291.8" fill="#44ee11"/>
<polygon points="305.6,288.2 303.2,291.9 308.0,291.9" fill="#44ee11"/>
<polygon points="309.8,288.2 307.4,291.9 312.2,291.9" fill="#44ee11"/>
<polygon points="311.6,288.9 309.2,292.6 314.0,292.6" fill="#44ee11"/>
<polygon points="315.1,289.4 312.7,293.1 317.5,293.1" fill="#44ee11"/>
<polygon points="318.9,289.7 316.5,293.4 321.3,293.4" fill="#44ee11"/>
<polygon points="317.2,289.8 314.8,293.5 319.6,293.5" fill="#44ee11"/>
<polygon points="316.0,289.9 313.6,293.6 318.4,293.6" fill="#44ee11"/>
<polygon points="317.9,290.0 315.5,293.7 320.3,293.7" fill="#44ee11"/>
<polygon points="309.7,290.2 307.3,293.9 312.1,293.9" fill="#44ee11"/>
<polygon points="306.7,290.5 304.3,294.2 309.1,294.2" fill="#44ee11"/>
<polygon points="316.3,290.5 313.9,294.2 318.7,294.2" fill="#44ee11"/>
<polygon points="318.8,290.6 316.4,294.3 321.2,294.3" fill="#44ee11"/>
<polygon points="306.0,291.2 303.6,294.9 308.4,294.9" fill="#44ee11"/>
<polygon points="316.8,291.2 314.4,294.9 319.2,294.9" fill="#44ee11"/>
<polygon points="316.5,291.3 314.1,295.0 318.9,295.0" fill="#44ee11"/>
<polygon points="309.3,291.4 306.9,295.1 311.7,295.1" fill="#44ee11"/>
<polygon points="307.9,291.8 305.5,295.5 310.3,295.5" fill="#44ee11"/>
<polygon points="309.1,292.0 306.7,295.7 311.5,295.7" fill="#44ee11"/>
<polygon points="317.8,292.2 315.4,295.9 320.2,295.9" fill="#44ee11"/>
<polygon points="310.3,292.3 307.9,296.0 312.7,296.0" fill="#44ee11"/>
<polygon points="312.8,292.3 310.4,296.0 315.2,296.0" fill="#44ee11"/>
<polygon points="311.3,292.4 308.9,296.1 313.7,296.1" fill="#44ee11"/>
<polygon points="312.2,293.3 309.8,297.0 314.6,297.0" fill="#44ee11"/>
<polygon points="317.1,293.4 314.7,297.1 319.5,297.1" fill="#44ee11"/>
<polygon points="310.6,293.8 308.2,297.5 313.0,297.5" fill="#44ee11"/>
<polygon points="316.3,293.8 313.9,297.5 318.7,297.5" fill="#44ee11"/>
<polygon points="311.7,294.5 309.3,298.2 314.1,298.2" fill="#44ee11"/>
<polygon points="318.6,294.6 316.2,298.3 321.0,298.3" fill="#44ee11"/>
<polygon points="312.8,295.0 310.4,298.7 315.2,298.7" fill="#44ee11"/>
<polygon points="312.3,295.0 309.9,298.7 314.7,298.7" fill="#44ee11"/>
<polygon points="309.6,295.3 307.2,299.0 312.0,299.0" fill="#44ee11"/>
<polygon points="316.6,295.5 314.2,299.2 319.0,299.2" fill="#44ee11"/>
<polygon points="310.4,295.6 308.0,299.3 312.8,299.3" fill="#44ee11"/>
<polygon points="307.7,295.8 305.3,299.5 310.1,299.5" fill="#44ee11"/>
<polygon points="311.2,296.1 308.8,299.8 313.6,299.8" fill="#44ee11"/>
<polygon points="315.4,296.1 313.0,299.8 317.8,299.8" fill="#44ee11"/>
<polygon points="315.0,296.1 312.6,299.8 317.4,299.8" fill="#44ee11"/>
<polygon points="308.8,296.1 306.4,299.8 311.2,299.8" fill="#44ee11"/>
<polygon points="317.9,296.5 315.5,300.2 320.3,300.2" fill="#44ee11"/>
<polygon points="311.4,297.0 309.0,300.7 313.8,300.7" fill="#44ee11"/>
<polygon points="311.8,297.5 309.4,301.2 314.2,301.2" fill="#44ee11"/>
<polygon points="307.8,297.8 305.4,301.5 310.2,301.5" fill="#44ee11"/>
<polygon points="316.2,297.9 313.8,301.6 318.6,301.6" fill="#44ee11"/>
<polygon points="316.2,298.2 313.8,301.9 318.6,301.9" fill="#44ee11"/>
<polygon points="309.5,298.2 307.1,301.9 311.9,301.9" fill="#44ee11"/>
<polygon points="310.8,298.3 308.4,302.0 313.2,302.0" fill="#44ee11"/>
<polygon points="315.2,298.4 312.8,302.1 317.6,302.1" fill="#44ee11"/>
<polygon points="318.7,298.6 316.3,302.3 321.1,302.3" fill="#44ee11"/>
<polygon points="307.7,298.9 305.3,302.6 310.1,302.6" fill="#44ee11"/>
<polygon points="314.5,299.0 312.1,302.7 316.9,302.7" fill="#44ee11"/>
<polygon points="307.9,299.2 305.5,302.9 310.3,302.9" fill="#44ee11"/>
<polygon points="309.0,299.4 306.6,303.1 311.4,303.1" fill="#44ee11"/>
<polygon points="311.8,299.6 309.4,303.3 314.2,303.3" fill="#44ee11"/>
<polygon points="319.6,299.6 317.2,303.3 322.0,303.3" fill="#44ee11"/>
<polygon points="308.4,299.6 306.0,303.3 310.8,303.3" fill="#44ee11"/>
<polygon points="306.7,299.6 304.3,303.3 309.1,303.3" fill="#44ee11"/>
<polygon points="318.1,299.8 315.7,303.5 320.5,303.5" fill="#44ee11"/>
<polygon points="319.3,299.9 316.9,303.6 321.7,303.6" fill="#44ee11"/>
<polygon points="318.8,300.0 316.4,303.7 321.2,303.7" fill="#44ee11"/>
<polygon points="310.2,300.5 307.8,304.2 312.6,304.2" fill="#44ee11"/>
<polygon points="309.2,300.5 306.8,304.2 311.6,304.2" fill="#44ee11"/>
<polygon points="318.7,301.0 316.3,304.7 321.1,304.7" fill="#44ee11"/>
<polygon points="311.3,301.8 308.9,305.5 313.7,305.5" fill="#44ee11"/>
<polygon points="309.2,301.8 306.8,305.5 311.6,305.5" fill="#44ee11"/>
<polygon points="314.4,301.9 312.0,305.6 316.8,305.6" fill="#44ee11"/>
<polygon points="316.5,302.1 314.1,305.8 318.9,305.8" fill="#44ee11"/>
<polygon points="312.2,302.1 309.8,305.8 314.6,305.8" fill="#44ee11"/>
<polygon points="305.6,302.9 303.2,306.6 308.0,306.6" fill="#44ee11"/>
<polygon points="311.4,302.9 309.0,306.6 313.8,306.6" fill="#44ee11"/>
<polygon points="310.5,303.4 308.1,307.1 312.9,307.1" fill="#44ee11"/>
<polygon points="313.9,303.5 311.5,307.2 316.3,307.2" fill="#44ee11"/>
<polygon points="314.9,303.9 312.5,307.6 317.3,307.6" fill="#44ee11"/>
<polygon points="318.9,303.9 316.5,307.6 321.3,307.6" fill="#44ee11"/>
<polygon points="316.4,304.0 314.0,307.7 318.8,307.7" fill="#44ee11"/>
<polygon points="311.2,304.0 308.8,307.7 313.6,307.7" fill="#44ee11"/>
<polygon points="312.4,304.1 310.0,307.8 314.8,307.8" fill="#44ee11"/>
<polygon points="309.9,304.6 307.5,308.3 312.3,308.3" fill="#44ee11"/>
<polygon points="318.8,304.6 316.4,308.3 321.2,308.3" fill="#44ee11"/>
<polygon points="312.9,304.6 310.5,308.3 315.3,308.3" fill="#44ee11"/>
<polygon points="318.8,304.7 316.4,308.4 321.2,308.4" fill="#44ee11"/>
<polygon points="313.3,305.6 310.9,309.3 315.7,309.3" fill="#44ee11"/>
<polygon points="317.6,306.1 315.2,309.8 320.0,309.8" fill="#44ee11"/>
<polygon points="309.2,306.3 306.8,310.0 311.6,310.0" fill="#44ee11"/>
<polygon points="312.8,306.6 310.4,310.3 315.2,310.3" fill="#44ee11"/>
<polygon points="315.8,306.7 313.4,310.4 318.2,310.4" fill="#44ee11"/>
<polygon points="316.4,307.0 314.0,310.7 318.8,310.7" fill="#44ee11"/>
<polygon points="312.6,307.2 310.2,310.9 315.0,310.9" fill="#44ee11"/>
<polygon points="308.8,307.5 306.4,311.2 311.2,311.2" fill="#44ee11"/>
<polygon points="316.0,307.6 313.6,311.3 318.4,311.3" fill="#44ee11"/>
<polygon points="317.4,307.7 315.0,311.4 319.8,311.4" fill="#44ee11"/>
<polygon points="311.2,307.8 308.8,311.5 313.6,311.5" fill="#44ee11"/>
<polygon points="313.4,308.3 311.0,312.0 315.8,312.0" fill="#44ee11"/>
<polygon points="315.6,309.8 313.2,313.5 318.0,313.5" fill="#44ee11"/>
<polygon points="312.1,309.9 309.7,313.6 314.5,313.6" fill="#44ee11"/>
<polygon points="314.4,310.2 312.0,313.9 316.8,313.9" fill="#44ee11"/>
<polygon points="315.0,310.3 312.6,314.0 317.4,314.0" fill="#44ee11"/>
<polygon points="313.8,310.3 311.4,314.0 316.2,314.0" fill="#44ee11"/>
<polygon points="310.8,310.7 308.4,314.4 313.2,314.4" fill="#44ee11"/>
<polygon points="310.5,310.8 308.1,314.5 312.9,314.5" fill="#44ee11"/>
<polygon points="312.9,311.1 310.5,314.8 315.3,314.8" fill="#44ee11"/>
<polygon points="313.7,311.3 311.3,315.0 316.1,315.0" fill="#44ee11"/>
<polygon points="311.1,311.9 308.7,315.6 313.5,315.6" fill="#44ee11"/>
<polygon points="311.5,311.9 309.1,315.6 313.9,315.6" fill="#44ee11"/>
<polygon points="312.2,312.0 309.8,315.7 314.6,315.7" fill="#44ee11"/>
<polygon points="311.5,312.1 309.1,315.8 313.9,315.8" fill="#44ee11"/>
<polygon points="312.1,312.2 309.7,315.9 314.5,315.9" fill="#44ee11"/>
<polygon points="311.2,312.5 308.8,316.2 313.6,316.2" fill="#44ee11"/>
<polygon points="312.0,313.0 309.6,316.7 314.4,316.7" fill="#44ee11"/>
<polygon points="313.0,313.5 310.6,317.2 315.4,317.2" fill="#44ee11"/>
<polygon points="312.1,313.8 309.7,317.5 314.5,317.5" fill="#44ee11"/>
<polygon points="312.6,314.1 310.2,317.8 315.0,317.8" fill="#44ee11"/>
<polygon points="312.7,314.1 310.3,317.8 315.1,317.8" fill="#44ee11"/>
<polygon points="312.4,314.8 310.0,318.5 314.8,318.5" fill="#44ee11"/>
<polygon points="312.5,316.4 310.1,320.1 314.9,320.1" fill="#44ee11"/>
<line x1="344.7" y1="282.4" x2="344.7" y2="309.4" stroke="#ff33ff" stroke-width="1.0"/>
<line x1="339.1" y1="282.4" x2="350.3" y2="282.4" stroke="#ff33ff" stroke-width="1.0"/>
<line x1="339.1" y1="309.4" x2="350.3" y2="309.4" stroke="#ff33ff" stroke-width="1.0"/>
<polygon points="344.8,265.1 342.2,261.3 347.4,261.3" fill="#ff33ff"/>
<polygon points="344.8,279.8 342.2,276.0 347.4,276.0" fill="#ff33ff"/>
<polygon points="344.8,288.1 342.2,284.3 347.4,284.3" fill="#ff33ff"/>
<polygon points="336.5,300.2 333.9,296.4 339.1,296.4" fill="#ff33ff"/>
<polygon points="341.5,300.5 338.9,296.7 344.1,296.7" fill="#ff33ff"/>
<polygon points="347.9,300.5 345.3,296.7 350.5,296.7" fill="#ff33ff"/>
<polygon points="352.0,300.2 349.4,296.4 354.6,296.4" fill="#ff33ff"/>
<polygon points="344.8,294.9 342.2,291.1 347.4,291.1" fill="#ff33ff"/>
<polygon points="344.8,310.1 342.2,306.3 347.4,306.3" fill="#ff33ff"/>
<polygon points="344.8,321.4 342.2,317.6 347.4,317.6" fill="#ff33ff"/>
<polygon points="344.8,304.9 342.2,301.1 347.4,301.1" fill="#ff33ff"/>
<text x="389.0" y="208.0" font-family="Liberation Serif" font-size="14" font-weight="bold" fill="#000" text-anchor="start">F</text>
<text x="441.5" y="207.2" font-family="Liberation Serif" font-size="12.7" font-weight="normal" fill="#111" text-anchor="start" textLength="49.8" lengthAdjust="spacingAndGlyphs">Ptp-3:GFP</text>
<text x="568.2" y="206.9" font-family="Liberation Serif" font-size="12.7" font-weight="normal" fill="#111" text-anchor="start" textLength="84.3" lengthAdjust="spacingAndGlyphs">Ptp-3:GFP+VB12</text>
<rect x="386.7" y="210.8" width="151.0" height="141.7" fill="#020602" stroke="none" stroke-width="0"/>
<rect x="539.2" y="211.0" width="144.8" height="141.5" fill="#05190a" stroke="none" stroke-width="0"/>
<g clip-path="url(#c1)"><path d="M409.5,269.4 L409.6,269.1 L409.7,268.8 L409.7,268.4 L409.8,267.9 L409.9,267.4 L410.0,266.9 L410.1,266.5 L410.2,266.0 L410.4,265.5 L410.5,265.2 L410.7,264.9 L410.9,264.6 L411.0,264.4 L411.2,264.0 L411.4,263.7 L411.6,263.4 L411.7,263.0 L411.9,262.7 L412.1,262.4 L412.3,262.1 L412.5,261.8 L412.7,261.6 L412.9,261.4 L413.1,261.3 L413.3,261.1 L413.5,260.9 L413.8,260.7 L414.0,260.6 L414.2,260.4 L414.4,260.3 L414.7,260.2 L414.9,260.0 L415.1,260.0 L415.3,259.9 L415.5,259.8 L415.7,259.8 L416.0,259.7 L416.3,259.6 L416.6,259.6 L416.9,259.5 L417.1,259.5 L417.3,259.5 L417.5,259.5 L417.7,259.5 L417.9,259.5 L418.1,259.6 L418.3,259.6 L418.5,259.7 L418.9,259.8 L419.3,260.0 L419.7,260.2 L420.2,260.4 L420.8,260.6 L421.3,260.9 L421.9,261.2 L422.6,261.6 L423.2,261.9 L423.9,262.3 L424.5,262.7 L425.1,263.1 L425.8,263.5 L426.4,263.9 L427.0,264.4 L427.7,264.9 L428.5,265.5 L429.2,266.1 L430.0,266.7 L430.8,267.3 L431.6,267.9 L432.5,268.6 L433.3,269.2 L434.1,269.8 L434.9,270.4 L435.6,270.9 L436.4,271.5 L437.2,272.1 L437.9,272.6 L438.7,273.2 L439.4,273.7 L440.2,274.3 L441.0,274.9 L441.7,275.4 L442.5,276.0 L443.3,276.5 L444.1,277.0 L444.8,277.6 L445.6,278.1 L446.4,278.6 L447.3,279.2 L448.1,279.7 L448.9,280.3 L449.8,280.8 L450.7,281.4 L451.6,281.9 L452.6,282.4 L453.5,282.9 L454.4,283.4 L455.3,283.8 L456.2,284.2 L457.0,284.6 L458.0,285.0 L458.9,285.3 L459.8,285.7 L460.7,286.0 L461.7,286.3 L462.6,286.6 L463.6,286.8 L464.5,287.1 L465.5,287.3 L466.5,287.5 L467.4,287.6 L468.4,287.7 L469.3,287.8 L470.3,287.9 L471.2,288.0 L472.2,288.0 L473.1,288.0 L474.1,288.0 L475.0,288.0 L476.0,287.9 L477.0,287.8 L478.0,287.7 L479.0,287.5 L479.9,287.3 L480.9,287.1 L481.7,286.9 L482.6,286.7 L483.5,286.4 L484.3,286.2 L485.1,285.9 L485.8,285.7 L486.6,285.5 L487.5,285.2 L488.4,284.9 L489.3,284.5 L490.1,284.2 L490.9,283.9 L491.6,283.6 L492.3,283.3 L493.0,283.0 L493.7,282.7 L494.3,282.5 L494.8,282.3 L495.4,282.2 L496.1,282.0 L496.9,281.9 L497.6,281.7 L498.3,281.6 L499.0,281.5 L499.7,281.4 L500.4,281.3 L501.1,281.3 L501.7,281.2 L502.3,281.2 L502.9,281.2 L503.4,281.3 L503.9,281.4 L504.3,281.5 L504.9,281.6 L505.4,281.8 L505.9,282.0 L506.5,282.2 L507.0,282.5 L507.6,282.8 L508.2,283.1 L508.8,283.4 L509.3,283.7 L509.9,284.0 L510.3,284.2 L510.8,284.5 L511.2,284.8 L511.6,285.0 L512.0,285.3 L512.3,285.6 L512.7,285.9 L513.1,286.2 L513.5,286.6 L513.9,286.9 L514.4,287.3 L514.8,287.7 L515.2,288.1 L515.7,288.6 L516.1,289.0 L516.5,289.5 L517.0,290.0 L517.4,290.5 L517.9,291.0 L518.3,291.6 L518.8,292.1 L519.2,292.6 L519.6,293.1 L520.0,293.6 L520.4,294.2 L520.8,294.7 L521.2,295.2 L521.6,295.7 L521.9,296.2 L522.3,296.7 L522.6,297.1 L522.9,297.5 L523.1,297.9 L523.4,298.3 L523.6,298.7 L523.8,299.1 L524.0,299.6 L524.2,300.1 L524.3,300.6 L524.5,301.1 L524.7,301.6 L524.8,302.2 L524.9,302.8 L525.0,303.4 L525.2,304.0 L525.3,304.7 L525.4,305.3 L525.5,305.9 L525.5,306.5 L525.6,307.2 L525.7,307.9 L525.7,308.7 L525.8,309.5 L525.8,310.3 L525.8,311.2 L525.8,311.9 L525.8,312.6 L525.8,313.3 L525.8,313.9 L525.8,314.3 L527.2,314.7 L527.5,314.3 L527.8,313.9 L528.1,313.4 L528.5,312.8 L528.9,312.1 L529.4,311.4 L529.9,310.6 L530.3,309.9 L530.7,309.0 L531.1,308.2 L531.5,307.4 L531.7,306.5 L532.0,305.7 L532.1,305.0 L532.3,304.2 L532.4,303.4 L532.5,302.6 L532.6,301.7 L532.6,300.9 L532.6,300.1 L532.5,299.2 L532.5,298.4 L532.4,297.5 L532.2,296.7 L532.0,295.8 L531.8,294.9 L531.5,294.1 L531.2,293.3 L530.8,292.6 L530.5,291.9 L530.1,291.2 L529.7,290.5 L529.3,289.8 L529.0,289.2 L528.6,288.6 L528.2,288.0 L527.8,287.3 L527.4,286.6 L526.9,286.0 L526.4,285.3 L525.9,284.6 L525.4,284.0 L524.9,283.3 L524.4,282.7 L523.8,282.1 L523.3,281.4 L522.7,280.8 L522.2,280.3 L521.7,279.7 L521.2,279.2 L520.6,278.7 L520.1,278.2 L519.6,277.8 L519.0,277.3 L518.4,276.8 L517.8,276.3 L517.2,275.9 L516.5,275.5 L515.8,275.0 L515.1,274.6 L514.5,274.3 L513.8,273.9 L513.1,273.5 L512.3,273.1 L511.5,272.8 L510.7,272.4 L509.8,272.1 L508.9,271.7 L508.0,271.4 L507.0,271.2 L506.0,270.9 L505.0,270.7 L504.0,270.6 L503.0,270.4 L502.0,270.4 L501.0,270.3 L500.0,270.3 L499.0,270.4 L498.0,270.4 L497.1,270.5 L496.1,270.5 L495.2,270.6 L494.3,270.7 L493.4,270.8 L492.4,271.0 L491.4,271.2 L490.4,271.4 L489.5,271.6 L488.6,271.8 L487.7,272.1 L486.9,272.3 L486.1,272.5 L485.4,272.7 L484.7,272.8 L484.0,273.0 L483.4,273.1 L482.6,273.3 L481.8,273.5 L481.0,273.7 L480.2,273.8 L479.5,274.0 L478.8,274.2 L478.1,274.3 L477.4,274.4 L476.8,274.5 L476.2,274.6 L475.6,274.6 L475.0,274.7 L474.4,274.7 L473.8,274.7 L473.1,274.7 L472.5,274.7 L471.9,274.7 L471.2,274.7 L470.6,274.6 L470.0,274.6 L469.3,274.5 L468.7,274.4 L468.1,274.3 L467.5,274.1 L466.8,274.0 L466.2,273.8 L465.6,273.6 L464.9,273.4 L464.3,273.2 L463.6,272.9 L463.0,272.7 L462.3,272.4 L461.6,272.1 L460.9,271.8 L460.2,271.4 L459.5,271.1 L458.9,270.8 L458.2,270.4 L457.5,270.0 L456.8,269.6 L456.1,269.1 L455.4,268.6 L454.6,268.1 L453.9,267.6 L453.1,267.1 L452.3,266.5 L451.5,266.0 L450.7,265.5 L449.9,265.0 L449.2,264.5 L448.4,264.0 L447.7,263.5 L446.9,263.0 L446.2,262.5 L445.4,262.0 L444.6,261.5 L443.8,261.0 L443.1,260.5 L442.3,259.9 L441.5,259.4 L440.7,258.9 L440.0,258.4 L439.2,257.8 L438.4,257.2 L437.5,256.6 L436.7,256.0 L435.8,255.4 L434.9,254.8 L434.0,254.2 L433.1,253.6 L432.2,253.0 L431.3,252.5 L430.4,252.0 L429.5,251.6 L428.6,251.2 L427.7,250.8 L426.8,250.4 L425.9,250.1 L425.0,249.8 L424.1,249.5 L423.2,249.2 L422.3,249.0 L421.4,248.8 L420.5,248.7 L419.5,248.6 L418.6,248.5 L417.7,248.6 L416.8,248.7 L415.9,248.8 L415.1,249.0 L414.4,249.2 L413.7,249.4 L413.0,249.7 L412.4,250.0 L411.8,250.3 L411.3,250.6 L410.7,251.0 L410.0,251.4 L409.4,251.9 L408.9,252.3 L408.4,252.8 L407.9,253.4 L407.5,253.9 L407.0,254.4 L406.7,255.0 L406.3,255.6 L406.0,256.1 L405.7,256.7 L405.4,257.4 L405.2,258.0 L405.0,258.7 L404.8,259.4 L404.7,260.0 L404.6,260.6 L404.6,261.3 L404.5,261.9 L404.5,262.5 L404.6,263.1 L404.6,263.7 L404.7,264.4 L404.9,265.0 L405.1,265.7 L405.4,266.3 L405.7,266.9 L406.1,267.4 L406.4,267.8 L406.8,268.3 L407.1,268.7 L407.4,269.0 L407.7,269.3 L407.9,269.6 L408.1,269.8Z" fill="#0a300d" filter="url(#b2)" opacity="0.6"/><path d="M409.4,269.5 L409.4,269.2 L409.4,268.8 L409.4,268.4 L409.5,268.0 L409.5,267.5 L409.6,267.0 L409.6,266.6 L409.7,266.1 L409.8,265.6 L409.9,265.2 L410.0,264.9 L410.1,264.6 L410.3,264.3 L410.4,263.9 L410.6,263.6 L410.7,263.2 L410.9,262.8 L411.1,262.5 L411.3,262.1 L411.4,261.8 L411.6,261.5 L411.8,261.2 L412.0,260.9 L412.2,260.7 L412.4,260.5 L412.7,260.3 L412.9,260.1 L413.2,259.9 L413.4,259.7 L413.7,259.5 L413.9,259.3 L414.2,259.1 L414.4,259.0 L414.7,258.9 L414.9,258.8 L415.2,258.7 L415.5,258.6 L415.9,258.5 L416.2,258.4 L416.5,258.3 L416.8,258.3 L417.0,258.3 L417.3,258.2 L417.6,258.2 L417.8,258.3 L418.1,258.3 L418.4,258.3 L418.8,258.4 L419.2,258.5 L419.6,258.7 L420.1,258.9 L420.7,259.1 L421.3,259.4 L421.9,259.7 L422.5,260.0 L423.2,260.3 L423.8,260.7 L424.5,261.1 L425.2,261.5 L425.9,261.9 L426.5,262.3 L427.2,262.7 L427.9,263.2 L428.6,263.7 L429.3,264.3 L430.1,264.9 L430.9,265.5 L431.7,266.1 L432.5,266.7 L433.3,267.4 L434.2,268.0 L435.0,268.6 L435.8,269.1 L436.5,269.7 L437.3,270.3 L438.0,270.8 L438.8,271.4 L439.5,271.9 L440.3,272.5 L441.1,273.0 L441.8,273.6 L442.6,274.1 L443.4,274.7 L444.2,275.2 L445.0,275.7 L445.7,276.3 L446.5,276.8 L447.3,277.3 L448.1,277.9 L448.9,278.4 L449.8,279.0 L450.6,279.5 L451.5,280.0 L452.4,280.5 L453.3,281.0 L454.2,281.5 L455.1,281.9 L455.9,282.4 L456.8,282.8 L457.7,283.1 L458.5,283.5 L459.4,283.9 L460.3,284.2 L461.2,284.5 L462.1,284.8 L463.0,285.1 L464.0,285.3 L464.9,285.5 L465.8,285.7 L466.7,285.9 L467.6,286.1 L468.6,286.2 L469.5,286.3 L470.4,286.4 L471.3,286.4 L472.2,286.5 L473.1,286.5 L474.0,286.5 L474.9,286.4 L475.9,286.4 L476.8,286.3 L477.8,286.1 L478.7,286.0 L479.6,285.8 L480.5,285.6 L481.4,285.4 L482.2,285.2 L483.1,284.9 L483.9,284.7 L484.7,284.5 L485.4,284.2 L486.2,284.0 L487.1,283.7 L488.0,283.4 L488.8,283.1 L489.6,282.8 L490.4,282.5 L491.2,282.2 L491.9,281.9 L492.6,281.6 L493.3,281.4 L493.9,281.2 L494.5,281.0 L495.2,280.8 L495.9,280.7 L496.7,280.5 L497.4,280.4 L498.2,280.3 L498.9,280.2 L499.7,280.1 L500.4,280.0 L501.1,280.0 L501.8,280.0 L502.4,280.0 L503.0,280.0 L503.6,280.0 L504.1,280.1 L504.7,280.3 L505.2,280.4 L505.8,280.6 L506.4,280.8 L507.0,281.1 L507.6,281.3 L508.2,281.6 L508.8,281.9 L509.3,282.2 L509.9,282.6 L510.5,282.9 L511.0,283.2 L511.4,283.4 L511.9,283.7 L512.3,284.0 L512.7,284.3 L513.1,284.6 L513.5,284.9 L513.9,285.3 L514.4,285.6 L514.8,286.0 L515.2,286.4 L515.7,286.8 L516.1,287.3 L516.6,287.7 L517.0,288.2 L517.5,288.7 L517.9,289.2 L518.4,289.8 L518.8,290.3 L519.3,290.8 L519.7,291.4 L520.1,291.9 L520.6,292.4 L521.0,293.0 L521.4,293.5 L521.8,294.1 L522.2,294.6 L522.5,295.1 L522.9,295.6 L523.2,296.1 L523.5,296.6 L523.8,297.0 L524.1,297.5 L524.4,297.9 L524.6,298.4 L524.8,298.8 L525.0,299.3 L525.2,299.9 L525.3,300.4 L525.5,301.0 L525.6,301.6 L525.7,302.2 L525.8,302.8 L525.9,303.4 L526.0,304.0 L526.1,304.7 L526.1,305.3 L526.2,306.0 L526.2,306.6 L526.3,307.3 L526.3,308.0 L526.3,308.8 L526.2,309.7 L526.2,310.5 L526.2,311.3 L526.1,312.0 L526.0,312.7 L526.0,313.4 L526.0,313.9 L525.9,314.3 L527.1,314.7 L527.3,314.3 L527.5,313.8 L527.8,313.3 L528.2,312.7 L528.6,312.0 L529.0,311.3 L529.4,310.5 L529.8,309.7 L530.1,308.9 L530.5,308.1 L530.8,307.3 L531.0,306.4 L531.2,305.7 L531.3,304.9 L531.4,304.2 L531.5,303.4 L531.6,302.6 L531.6,301.8 L531.7,301.0 L531.6,300.2 L531.6,299.4 L531.5,298.6 L531.4,297.8 L531.2,297.0 L531.0,296.1 L530.8,295.3 L530.5,294.6 L530.2,293.8 L529.8,293.1 L529.5,292.4 L529.1,291.7 L528.8,291.1 L528.4,290.5 L528.0,289.8 L527.6,289.2 L527.2,288.6 L526.8,288.0 L526.4,287.3 L525.9,286.7 L525.5,286.0 L525.0,285.4 L524.5,284.7 L524.0,284.1 L523.5,283.5 L522.9,282.9 L522.4,282.3 L521.9,281.7 L521.3,281.2 L520.8,280.6 L520.3,280.1 L519.8,279.7 L519.3,279.2 L518.8,278.7 L518.2,278.3 L517.6,277.8 L517.1,277.4 L516.5,276.9 L515.8,276.5 L515.2,276.1 L514.5,275.7 L513.9,275.4 L513.2,275.0 L512.5,274.6 L511.8,274.3 L511.0,273.9 L510.2,273.6 L509.4,273.2 L508.5,272.9 L507.6,272.6 L506.7,272.4 L505.8,272.1 L504.8,272.0 L503.9,271.8 L502.9,271.7 L501.9,271.7 L501.0,271.6 L500.0,271.6 L499.1,271.7 L498.1,271.7 L497.2,271.8 L496.3,271.8 L495.4,271.9 L494.5,272.0 L493.6,272.2 L492.7,272.3 L491.7,272.5 L490.8,272.7 L489.9,272.9 L489.0,273.2 L488.2,273.4 L487.4,273.6 L486.6,273.9 L485.9,274.1 L485.1,274.3 L484.5,274.4 L483.8,274.6 L483.0,274.8 L482.2,274.9 L481.4,275.1 L480.6,275.3 L479.8,275.5 L479.1,275.6 L478.4,275.8 L477.7,275.9 L477.0,276.0 L476.4,276.1 L475.8,276.2 L475.1,276.2 L474.5,276.3 L473.8,276.3 L473.1,276.3 L472.4,276.3 L471.8,276.3 L471.1,276.2 L470.4,276.2 L469.8,276.1 L469.1,276.0 L468.4,275.9 L467.8,275.8 L467.1,275.7 L466.5,275.5 L465.8,275.3 L465.1,275.1 L464.5,274.9 L463.8,274.7 L463.1,274.4 L462.4,274.1 L461.7,273.8 L461.0,273.5 L460.2,273.2 L459.5,272.8 L458.8,272.5 L458.1,272.1 L457.4,271.7 L456.7,271.3 L456.0,270.9 L455.3,270.4 L454.5,269.9 L453.8,269.4 L453.0,268.9 L452.2,268.4 L451.4,267.8 L450.6,267.3 L449.8,266.8 L449.0,266.3 L448.3,265.8 L447.5,265.3 L446.8,264.8 L446.0,264.3 L445.3,263.8 L444.5,263.3 L443.7,262.7 L443.0,262.2 L442.2,261.7 L441.4,261.1 L440.6,260.6 L439.9,260.1 L439.1,259.6 L438.3,259.0 L437.5,258.4 L436.7,257.8 L435.8,257.2 L435.0,256.6 L434.1,256.0 L433.2,255.4 L432.3,254.8 L431.4,254.2 L430.5,253.7 L429.7,253.3 L428.8,252.9 L428.0,252.5 L427.1,252.1 L426.2,251.7 L425.4,251.4 L424.5,251.1 L423.7,250.8 L422.8,250.5 L422.0,250.3 L421.1,250.1 L420.2,250.0 L419.4,249.9 L418.5,249.8 L417.7,249.9 L416.9,249.9 L416.1,250.1 L415.4,250.2 L414.7,250.4 L414.0,250.6 L413.4,250.9 L412.9,251.1 L412.3,251.4 L411.8,251.7 L411.2,252.0 L410.7,252.4 L410.1,252.8 L409.6,253.2 L409.1,253.7 L408.7,254.2 L408.3,254.7 L407.9,255.2 L407.5,255.7 L407.2,256.2 L406.8,256.7 L406.6,257.3 L406.3,257.9 L406.1,258.5 L405.9,259.1 L405.7,259.7 L405.6,260.3 L405.5,260.9 L405.4,261.5 L405.4,262.1 L405.3,262.7 L405.4,263.3 L405.4,263.8 L405.5,264.4 L405.6,265.0 L405.8,265.6 L406.0,266.2 L406.3,266.8 L406.5,267.3 L406.8,267.7 L407.1,268.2 L407.4,268.6 L407.7,268.9 L407.9,269.3 L408.1,269.5 L408.2,269.7Z" fill="url(#g1a)" stroke="url(#g1b)" stroke-width="1.4" filter="url(#b05)"/><path d="M409.1,269.5 L409.1,269.3 L409.1,268.9 L409.1,268.5 L409.0,268.1 L409.0,267.7 L409.0,267.2 L409.0,266.7 L409.0,266.2 L409.0,265.8 L409.0,265.3 L409.1,264.9 L409.1,264.6 L409.2,264.2 L409.3,263.8 L409.5,263.4 L409.6,263.0 L409.7,262.5 L409.9,262.1 L410.1,261.7 L410.2,261.3 L410.4,261.0 L410.6,260.6 L410.8,260.3 L411.0,260.0 L411.3,259.7 L411.5,259.4 L411.8,259.1 L412.0,258.9 L412.3,258.6 L412.6,258.3 L412.9,258.1 L413.2,257.9 L413.5,257.7 L413.8,257.5 L414.2,257.4 L414.5,257.2 L414.8,257.1 L415.2,256.9 L415.6,256.8 L416.0,256.7 L416.3,256.6 L416.7,256.6 L417.1,256.5 L417.4,256.5 L417.8,256.5 L418.2,256.5 L418.6,256.6 L419.1,256.6 L419.6,256.8 L420.1,256.9 L420.7,257.1 L421.3,257.3 L421.9,257.6 L422.6,257.9 L423.3,258.2 L424.0,258.6 L424.7,258.9 L425.4,259.3 L426.1,259.7 L426.9,260.1 L427.6,260.6 L428.3,261.0 L429.0,261.5 L429.8,262.1 L430.5,262.7 L431.3,263.2 L432.1,263.9 L432.9,264.5 L433.7,265.1 L434.6,265.7 L435.4,266.3 L436.2,266.9 L437.0,267.5 L437.7,268.0 L438.5,268.6 L439.2,269.1 L440.0,269.7 L440.8,270.2 L441.5,270.7 L442.3,271.3 L443.0,271.8 L443.8,272.4 L444.6,272.9 L445.4,273.4 L446.1,274.0 L446.9,274.5 L447.7,275.0 L448.5,275.6 L449.3,276.1 L450.1,276.6 L450.9,277.2 L451.8,277.7 L452.6,278.2 L453.5,278.7 L454.3,279.2 L455.2,279.6 L456.0,280.0 L456.8,280.4 L457.7,280.8 L458.5,281.2 L459.4,281.5 L460.2,281.9 L461.0,282.2 L461.9,282.5 L462.8,282.8 L463.6,283.0 L464.5,283.2 L465.4,283.5 L466.2,283.6 L467.1,283.8 L467.9,283.9 L468.8,284.1 L469.7,284.2 L470.5,284.2 L471.4,284.3 L472.3,284.3 L473.1,284.3 L474.0,284.3 L474.8,284.3 L475.7,284.2 L476.6,284.1 L477.5,284.0 L478.4,283.9 L479.2,283.7 L480.1,283.5 L480.9,283.3 L481.7,283.1 L482.6,282.9 L483.4,282.7 L484.1,282.5 L484.9,282.2 L485.7,282.0 L486.6,281.8 L487.4,281.5 L488.2,281.2 L489.0,280.9 L489.8,280.6 L490.5,280.3 L491.3,280.1 L492.0,279.8 L492.7,279.6 L493.4,279.3 L494.1,279.2 L494.9,279.0 L495.6,278.9 L496.4,278.7 L497.2,278.6 L498.0,278.5 L498.8,278.4 L499.5,278.3 L500.3,278.2 L501.1,278.2 L501.8,278.2 L502.5,278.2 L503.2,278.3 L503.8,278.3 L504.5,278.4 L505.1,278.6 L505.7,278.8 L506.4,279.0 L507.0,279.2 L507.7,279.5 L508.3,279.8 L508.9,280.1 L509.5,280.4 L510.2,280.7 L510.8,281.0 L511.3,281.4 L511.9,281.7 L512.4,282.0 L512.9,282.3 L513.3,282.6 L513.8,282.9 L514.2,283.3 L514.6,283.6 L515.1,284.0 L515.5,284.4 L516.0,284.8 L516.4,285.2 L516.9,285.6 L517.3,286.1 L517.8,286.6 L518.3,287.1 L518.7,287.6 L519.2,288.1 L519.7,288.7 L520.1,289.3 L520.6,289.8 L521.0,290.4 L521.5,290.9 L521.9,291.5 L522.3,292.1 L522.7,292.6 L523.1,293.2 L523.5,293.7 L523.9,294.3 L524.2,294.8 L524.6,295.3 L524.9,295.8 L525.2,296.4 L525.5,296.9 L525.7,297.4 L525.9,297.9 L526.1,298.4 L526.3,299.0 L526.5,299.6 L526.6,300.2 L526.8,300.8 L526.9,301.4 L527.0,302.1 L527.0,302.7 L527.1,303.4 L527.1,304.1 L527.2,304.7 L527.2,305.4 L527.2,306.1 L527.2,306.7 L527.2,307.4 L527.1,308.2 L527.0,309.0 L526.9,309.8 L526.8,310.6 L526.7,311.4 L526.5,312.2 L526.4,312.8 L526.3,313.5 L526.2,314.0 L526.2,314.4 L526.8,314.6 L527.0,314.2 L527.2,313.7 L527.5,313.2 L527.7,312.5 L528.1,311.8 L528.4,311.1 L528.7,310.3 L529.0,309.5 L529.3,308.7 L529.6,307.9 L529.8,307.1 L530.0,306.3 L530.1,305.6 L530.2,304.9 L530.3,304.1 L530.3,303.4 L530.4,302.6 L530.4,301.9 L530.4,301.1 L530.3,300.4 L530.3,299.6 L530.2,298.8 L530.0,298.1 L529.9,297.4 L529.7,296.6 L529.4,295.9 L529.1,295.2 L528.8,294.5 L528.5,293.8 L528.2,293.2 L527.8,292.6 L527.4,291.9 L527.1,291.3 L526.7,290.7 L526.3,290.1 L525.9,289.5 L525.5,288.9 L525.1,288.3 L524.6,287.7 L524.2,287.1 L523.7,286.4 L523.2,285.8 L522.7,285.2 L522.2,284.6 L521.7,284.0 L521.2,283.4 L520.6,282.9 L520.1,282.4 L519.6,281.9 L519.1,281.4 L518.7,280.9 L518.2,280.5 L517.7,280.0 L517.1,279.6 L516.6,279.2 L516.1,278.8 L515.5,278.4 L514.9,278.0 L514.3,277.6 L513.7,277.2 L513.0,276.9 L512.4,276.5 L511.7,276.2 L511.0,275.8 L510.3,275.5 L509.5,275.2 L508.7,274.8 L507.9,274.5 L507.1,274.3 L506.3,274.0 L505.4,273.8 L504.6,273.7 L503.7,273.5 L502.8,273.5 L501.9,273.4 L501.0,273.4 L500.1,273.4 L499.2,273.4 L498.3,273.5 L497.4,273.6 L496.5,273.7 L495.7,273.8 L494.8,273.9 L493.9,274.0 L493.1,274.2 L492.2,274.3 L491.3,274.6 L490.5,274.8 L489.6,275.0 L488.8,275.3 L488.0,275.5 L487.2,275.8 L486.5,276.0 L485.7,276.2 L485.0,276.4 L484.3,276.6 L483.5,276.8 L482.7,277.0 L481.9,277.2 L481.1,277.4 L480.4,277.5 L479.6,277.7 L478.8,277.9 L478.1,278.0 L477.4,278.1 L476.7,278.2 L476.0,278.3 L475.3,278.4 L474.6,278.4 L473.8,278.4 L473.1,278.4 L472.4,278.4 L471.7,278.4 L471.0,278.4 L470.2,278.3 L469.5,278.2 L468.8,278.1 L468.1,278.0 L467.4,277.9 L466.6,277.7 L465.9,277.6 L465.2,277.4 L464.5,277.2 L463.8,276.9 L463.0,276.7 L462.3,276.4 L461.6,276.1 L460.8,275.8 L460.1,275.5 L459.3,275.1 L458.6,274.8 L457.8,274.4 L457.1,274.0 L456.4,273.6 L455.6,273.2 L454.9,272.7 L454.1,272.2 L453.3,271.7 L452.6,271.2 L451.8,270.7 L451.0,270.2 L450.2,269.6 L449.4,269.1 L448.6,268.6 L447.9,268.1 L447.1,267.6 L446.3,267.0 L445.6,266.5 L444.8,266.0 L444.1,265.5 L443.3,265.0 L442.5,264.4 L441.8,263.9 L441.0,263.4 L440.2,262.8 L439.4,262.3 L438.7,261.8 L437.9,261.2 L437.1,260.6 L436.3,260.0 L435.4,259.4 L434.6,258.8 L433.8,258.2 L432.9,257.6 L432.1,257.0 L431.2,256.5 L430.4,255.9 L429.5,255.5 L428.7,255.0 L427.9,254.6 L427.1,254.2 L426.3,253.8 L425.4,253.5 L424.6,253.1 L423.8,252.8 L423.0,252.5 L422.2,252.3 L421.5,252.1 L420.7,251.9 L419.9,251.8 L419.2,251.7 L418.4,251.6 L417.7,251.6 L417.0,251.7 L416.4,251.8 L415.7,251.9 L415.1,252.1 L414.6,252.3 L414.0,252.5 L413.5,252.7 L413.0,252.9 L412.5,253.2 L412.0,253.5 L411.5,253.8 L411.0,254.1 L410.6,254.5 L410.1,254.9 L409.7,255.3 L409.3,255.7 L409.0,256.1 L408.6,256.6 L408.3,257.1 L408.0,257.5 L407.8,258.0 L407.5,258.5 L407.3,259.0 L407.1,259.6 L406.9,260.1 L406.8,260.7 L406.7,261.2 L406.6,261.8 L406.5,262.3 L406.5,262.9 L406.4,263.4 L406.4,263.9 L406.5,264.4 L406.5,265.0 L406.6,265.5 L406.8,266.1 L407.0,266.6 L407.2,267.1 L407.4,267.6 L407.6,268.0 L407.9,268.5 L408.0,268.8 L408.2,269.2 L408.4,269.4 L408.5,269.7Z" fill="url(#g1c)" filter="url(#b1)"/><ellipse cx="481.6" cy="272.6" rx="2.6" ry="1.6" fill="#43c044" filter="url(#b05)"/><ellipse cx="526.4" cy="313.2" rx="0.8" ry="1.6" fill="#45c846" filter="url(#b0)"/><circle cx="434.3" cy="347" r="0.9" fill="#2f9a30" filter="url(#b0)"/></g>
<g clip-path="url(#c2)"><ellipse cx="606" cy="284" rx="60" ry="85" transform="rotate(-42 606 284)" fill="#0b3315" filter="url(#b4)" opacity="0.45"/><path d="M585,222 C610,240 640,262 655,300 C662,318 672,330 685,338" fill="none" stroke="#0f4520" stroke-width="5" filter="url(#b3)" opacity="0.7"/><path d="M549.4,223.3 L549.6,223.6 L549.9,223.9 L550.3,224.3 L550.7,224.7 L551.1,225.2 L551.5,225.7 L552.0,226.2 L552.4,226.8 L552.9,227.3 L553.3,227.9 L553.8,228.5 L554.2,229.0 L554.6,229.6 L555.0,230.2 L555.4,230.9 L555.8,231.5 L556.2,232.1 L556.6,232.8 L557.0,233.4 L557.3,234.0 L557.7,234.7 L558.0,235.3 L558.3,235.9 L558.7,236.5 L559.1,237.2 L559.5,237.9 L559.9,238.5 L560.3,239.2 L560.7,239.9 L561.1,240.6 L561.5,241.3 L561.9,242.0 L562.3,242.7 L562.6,243.3 L563.0,244.0 L563.3,244.6 L563.6,245.3 L564.0,245.9 L564.3,246.6 L564.6,247.3 L565.0,248.1 L565.4,248.9 L565.7,249.7 L566.1,250.5 L566.5,251.3 L566.9,252.2 L567.3,253.0 L567.7,253.9 L568.0,254.6 L568.3,255.4 L568.6,256.1 L568.9,256.9 L569.2,257.7 L569.5,258.5 L569.9,259.3 L570.2,260.2 L570.6,261.1 L571.0,262.0 L571.4,263.0 L571.8,263.9 L572.3,264.9 L572.7,265.8 L573.1,266.7 L573.5,267.6 L574.0,268.5 L574.4,269.5 L574.9,270.4 L575.4,271.4 L575.9,272.3 L576.4,273.3 L576.9,274.2 L577.4,275.1 L577.8,276.1 L578.3,277.0 L578.9,277.9 L579.4,278.8 L579.9,279.8 L580.5,280.7 L581.0,281.7 L581.6,282.7 L582.2,283.6 L582.8,284.6 L583.4,285.6 L584.1,286.6 L584.7,287.5 L585.3,288.4 L586.0,289.3 L586.6,290.3 L587.3,291.2 L588.0,292.2 L588.7,293.2 L589.5,294.2 L590.3,295.2 L591.1,296.1 L592.0,297.1 L592.9,298.1 L593.8,299.0 L594.8,299.8 L595.7,300.7 L596.6,301.5 L597.6,302.3 L598.5,303.1 L599.5,303.8 L600.5,304.5 L601.4,305.2 L602.4,305.9 L603.4,306.6 L604.4,307.3 L605.5,308.0 L606.6,308.7 L607.7,309.4 L608.8,310.0 L609.9,310.7 L610.9,311.3 L612.0,311.9 L613.1,312.5 L614.1,313.1 L615.1,313.6 L616.1,314.2 L617.1,314.7 L618.2,315.3 L619.2,315.9 L620.3,316.5 L621.3,317.0 L622.3,317.6 L623.3,318.1 L624.3,318.6 L625.3,319.1 L626.2,319.6 L627.1,320.1 L628.1,320.6 L629.0,321.1 L629.9,321.7 L630.9,322.2 L631.9,322.8 L632.9,323.4 L633.9,324.0 L634.9,324.6 L635.9,325.2 L636.8,325.8 L637.8,326.4 L638.8,327.0 L639.7,327.5 L640.7,328.1 L641.6,328.6 L642.5,329.2 L643.4,329.7 L644.3,330.2 L645.1,330.7 L645.9,331.2 L646.8,331.7 L647.5,332.1 L648.3,332.6 L649.0,333.0 L649.8,333.4 L650.5,333.8 L651.2,334.2 L651.9,334.5 L652.6,334.9 L653.3,335.3 L654.1,335.8 L654.9,336.2 L655.7,336.7 L656.5,337.2 L657.3,337.7 L658.1,338.2 L659.0,338.7 L659.8,339.1 L660.6,339.6 L661.4,340.0 L662.1,340.4 L662.9,340.8 L663.6,341.1 L664.4,341.5 L665.1,341.9 L665.8,342.2 L666.5,342.5 L667.3,342.9 L668.0,343.2 L668.7,343.4 L669.4,343.7 L670.2,344.0 L670.9,344.2 L671.7,344.4 L672.5,344.6 L673.2,344.8 L673.9,345.0 L674.5,345.1 L675.1,345.3 L675.7,345.4 L676.1,345.5 L676.5,345.6 L677.5,344.0 L677.3,343.7 L677.1,343.3 L676.8,342.9 L676.4,342.4 L676.1,341.8 L675.7,341.2 L675.3,340.6 L674.9,340.0 L674.5,339.4 L674.1,338.7 L673.7,338.1 L673.3,337.6 L672.9,337.0 L672.6,336.4 L672.2,335.8 L671.7,335.2 L671.3,334.5 L670.9,333.9 L670.5,333.2 L670.0,332.6 L669.6,331.9 L669.1,331.2 L668.7,330.6 L668.2,329.9 L667.8,329.2 L667.4,328.5 L666.9,327.8 L666.5,327.0 L666.0,326.2 L665.5,325.4 L665.0,324.5 L664.4,323.7 L663.7,322.8 L663.0,321.9 L662.3,321.1 L661.5,320.2 L660.7,319.4 L659.9,318.6 L659.1,317.9 L658.2,317.2 L657.4,316.5 L656.6,315.8 L655.7,315.1 L654.8,314.5 L654.0,313.8 L653.1,313.2 L652.2,312.6 L651.3,311.9 L650.4,311.2 L649.4,310.6 L648.5,309.9 L647.5,309.2 L646.4,308.5 L645.4,307.8 L644.3,307.2 L643.3,306.5 L642.2,305.8 L641.2,305.1 L640.1,304.5 L639.0,303.9 L637.9,303.2 L636.9,302.6 L635.8,302.0 L634.7,301.4 L633.7,300.9 L632.7,300.4 L631.7,299.8 L630.7,299.3 L629.7,298.8 L628.8,298.3 L627.8,297.8 L626.9,297.3 L625.9,296.7 L624.8,296.1 L623.8,295.6 L622.8,295.0 L621.8,294.4 L620.8,293.9 L619.9,293.4 L618.9,292.8 L618.1,292.3 L617.2,291.8 L616.4,291.2 L615.6,290.7 L614.8,290.2 L614.0,289.6 L613.2,289.0 L612.4,288.4 L611.7,287.9 L611.0,287.3 L610.3,286.8 L609.6,286.2 L608.9,285.6 L608.3,285.1 L607.7,284.5 L607.1,283.9 L606.5,283.4 L605.9,282.8 L605.3,282.1 L604.8,281.5 L604.2,280.8 L603.6,280.1 L603.0,279.4 L602.4,278.6 L601.7,277.8 L601.1,277.0 L600.5,276.2 L599.9,275.4 L599.4,274.7 L598.8,273.9 L598.3,273.2 L597.8,272.4 L597.3,271.6 L596.7,270.8 L596.2,270.0 L595.7,269.2 L595.2,268.4 L594.7,267.5 L594.2,266.7 L593.6,265.9 L593.2,265.0 L592.7,264.2 L592.2,263.4 L591.7,262.6 L591.3,261.8 L590.8,261.0 L590.3,260.1 L589.9,259.3 L589.4,258.5 L589.0,257.7 L588.6,256.8 L588.2,256.1 L587.8,255.3 L587.4,254.6 L587.1,253.8 L586.7,253.1 L586.3,252.3 L586.0,251.5 L585.6,250.6 L585.2,249.8 L584.7,248.9 L584.3,248.0 L583.8,247.0 L583.3,246.1 L582.9,245.3 L582.4,244.4 L582.0,243.6 L581.5,242.7 L581.0,241.8 L580.4,240.9 L579.9,239.9 L579.3,239.0 L578.7,238.1 L578.1,237.2 L577.4,236.3 L576.7,235.4 L575.9,234.5 L575.2,233.7 L574.4,232.9 L573.7,232.2 L572.9,231.5 L572.1,230.8 L571.3,230.2 L570.5,229.6 L569.7,229.0 L568.9,228.5 L568.1,228.0 L567.3,227.5 L566.5,227.0 L565.6,226.6 L564.8,226.2 L563.9,225.8 L563.1,225.5 L562.3,225.2 L561.5,225.0 L560.7,224.8 L559.9,224.6 L559.2,224.4 L558.5,224.2 L557.8,224.0 L557.1,223.7 L556.4,223.5 L555.6,223.3 L554.9,223.0 L554.2,222.8 L553.5,222.6 L552.8,222.4 L552.2,222.2 L551.7,222.1 L551.2,221.9 L550.8,221.8 L550.4,221.7Z" fill="#0e4019" filter="url(#b3)" opacity="0.7"/><path d="M549.5,223.1 L549.8,223.4 L550.1,223.7 L550.4,224.1 L550.8,224.5 L551.3,224.9 L551.7,225.4 L552.2,225.9 L552.7,226.4 L553.2,226.9 L553.7,227.4 L554.1,228.0 L554.6,228.5 L555.0,229.0 L555.5,229.6 L555.9,230.2 L556.4,230.8 L556.8,231.3 L557.2,231.9 L557.6,232.5 L558.0,233.1 L558.4,233.7 L558.8,234.3 L559.2,234.9 L559.6,235.5 L560.0,236.2 L560.5,236.8 L560.9,237.5 L561.4,238.2 L561.8,238.9 L562.3,239.5 L562.7,240.2 L563.2,240.9 L563.6,241.6 L564.0,242.3 L564.4,243.0 L564.8,243.6 L565.1,244.3 L565.5,245.0 L565.9,245.7 L566.2,246.4 L566.6,247.2 L567.0,248.0 L567.4,248.8 L567.8,249.7 L568.2,250.5 L568.6,251.3 L569.0,252.2 L569.3,253.0 L569.7,253.8 L570.0,254.6 L570.3,255.3 L570.7,256.1 L571.0,256.9 L571.3,257.7 L571.7,258.6 L572.0,259.4 L572.4,260.3 L572.8,261.2 L573.2,262.2 L573.6,263.1 L574.0,264.0 L574.4,264.9 L574.9,265.8 L575.3,266.7 L575.8,267.6 L576.2,268.6 L576.7,269.5 L577.1,270.4 L577.6,271.3 L578.1,272.3 L578.6,273.2 L579.1,274.1 L579.6,275.0 L580.1,276.0 L580.6,276.9 L581.1,277.8 L581.7,278.7 L582.2,279.7 L582.8,280.6 L583.3,281.6 L583.9,282.5 L584.5,283.5 L585.2,284.4 L585.8,285.4 L586.4,286.3 L587.0,287.2 L587.7,288.1 L588.3,289.0 L589.0,290.0 L589.7,290.9 L590.4,291.9 L591.2,292.8 L591.9,293.8 L592.7,294.7 L593.6,295.6 L594.5,296.5 L595.3,297.4 L596.2,298.3 L597.1,299.1 L598.0,299.9 L599.0,300.6 L599.9,301.4 L600.8,302.1 L601.8,302.8 L602.7,303.5 L603.7,304.2 L604.6,304.8 L605.6,305.5 L606.6,306.2 L607.7,306.9 L608.8,307.5 L609.9,308.2 L610.9,308.8 L612.0,309.4 L613.1,310.0 L614.1,310.6 L615.2,311.2 L616.2,311.7 L617.2,312.3 L618.2,312.8 L619.2,313.4 L620.3,314.0 L621.3,314.6 L622.3,315.1 L623.3,315.6 L624.3,316.2 L625.3,316.7 L626.3,317.2 L627.2,317.7 L628.2,318.2 L629.1,318.8 L630.1,319.3 L631.0,319.8 L632.0,320.4 L633.0,321.0 L634.0,321.6 L635.0,322.2 L636.0,322.8 L637.0,323.4 L638.0,324.0 L639.0,324.6 L639.9,325.2 L640.9,325.8 L641.8,326.3 L642.8,326.9 L643.7,327.5 L644.6,328.0 L645.4,328.5 L646.3,329.0 L647.1,329.5 L647.9,330.0 L648.7,330.5 L649.5,331.0 L650.2,331.4 L651.0,331.9 L651.7,332.3 L652.4,332.8 L653.1,333.2 L653.8,333.6 L654.5,334.1 L655.3,334.6 L656.0,335.1 L656.8,335.6 L657.5,336.1 L658.3,336.6 L659.1,337.1 L659.9,337.6 L660.7,338.1 L661.5,338.6 L662.2,339.0 L662.9,339.5 L663.6,339.9 L664.4,340.3 L665.1,340.7 L665.8,341.1 L666.5,341.4 L667.1,341.8 L667.8,342.2 L668.5,342.5 L669.2,342.8 L669.9,343.1 L670.6,343.4 L671.3,343.7 L672.0,344.0 L672.8,344.2 L673.5,344.4 L674.1,344.6 L674.7,344.8 L675.3,345.0 L675.8,345.2 L676.2,345.3 L676.6,345.4 L677.4,344.2 L677.2,343.9 L676.9,343.5 L676.6,343.1 L676.2,342.7 L675.8,342.2 L675.4,341.6 L675.0,341.1 L674.5,340.5 L674.1,339.9 L673.7,339.3 L673.2,338.7 L672.8,338.2 L672.4,337.6 L672.0,337.1 L671.5,336.5 L671.1,335.9 L670.7,335.3 L670.2,334.7 L669.7,334.1 L669.2,333.5 L668.8,332.8 L668.3,332.2 L667.8,331.5 L667.3,330.9 L666.8,330.2 L666.4,329.6 L665.9,328.8 L665.4,328.1 L664.9,327.3 L664.4,326.6 L663.8,325.8 L663.2,324.9 L662.5,324.1 L661.8,323.3 L661.1,322.5 L660.3,321.7 L659.5,320.9 L658.7,320.2 L657.9,319.5 L657.1,318.8 L656.3,318.1 L655.4,317.5 L654.6,316.8 L653.7,316.2 L652.8,315.5 L651.9,314.9 L651.1,314.3 L650.2,313.7 L649.2,313.0 L648.3,312.3 L647.3,311.7 L646.3,311.0 L645.3,310.3 L644.3,309.6 L643.2,309.0 L642.2,308.3 L641.1,307.6 L640.0,307.0 L639.0,306.4 L637.9,305.7 L636.9,305.1 L635.8,304.5 L634.8,303.9 L633.7,303.3 L632.7,302.8 L631.7,302.3 L630.7,301.7 L629.7,301.2 L628.7,300.7 L627.7,300.2 L626.8,299.7 L625.8,299.2 L624.8,298.6 L623.8,298.0 L622.7,297.4 L621.7,296.9 L620.7,296.3 L619.7,295.8 L618.8,295.2 L617.8,294.7 L616.9,294.1 L616.1,293.6 L615.2,293.1 L614.4,292.5 L613.6,291.9 L612.7,291.3 L611.9,290.8 L611.1,290.2 L610.4,289.6 L609.6,289.0 L608.9,288.4 L608.2,287.9 L607.5,287.3 L606.8,286.7 L606.2,286.1 L605.5,285.5 L604.9,284.8 L604.3,284.2 L603.7,283.5 L603.1,282.9 L602.5,282.1 L601.9,281.4 L601.3,280.6 L600.7,279.9 L600.0,279.1 L599.4,278.3 L598.8,277.4 L598.2,276.6 L597.6,275.9 L597.1,275.1 L596.6,274.3 L596.0,273.5 L595.5,272.7 L595.0,271.9 L594.5,271.1 L593.9,270.2 L593.4,269.4 L592.9,268.6 L592.4,267.7 L591.9,266.9 L591.4,266.0 L590.9,265.2 L590.4,264.4 L590.0,263.6 L589.5,262.7 L589.0,261.9 L588.6,261.0 L588.1,260.2 L587.7,259.4 L587.2,258.5 L586.8,257.7 L586.4,256.9 L586.0,256.1 L585.6,255.4 L585.3,254.6 L584.9,253.8 L584.6,253.0 L584.2,252.2 L583.8,251.4 L583.4,250.5 L583.0,249.7 L582.6,248.8 L582.1,247.9 L581.7,247.0 L581.2,246.1 L580.7,245.3 L580.3,244.4 L579.8,243.5 L579.3,242.6 L578.8,241.7 L578.3,240.8 L577.7,239.9 L577.2,239.0 L576.5,238.1 L575.9,237.2 L575.2,236.4 L574.5,235.5 L573.8,234.8 L573.1,234.0 L572.4,233.3 L571.6,232.6 L570.9,231.9 L570.1,231.2 L569.4,230.6 L568.6,230.0 L567.9,229.5 L567.1,229.0 L566.4,228.5 L565.6,228.0 L564.8,227.5 L564.0,227.1 L563.2,226.7 L562.4,226.4 L561.7,226.1 L560.9,225.8 L560.2,225.5 L559.5,225.2 L558.8,225.0 L558.1,224.8 L557.4,224.5 L556.7,224.2 L556.0,224.0 L555.3,223.7 L554.6,223.4 L554.0,223.2 L553.3,222.9 L552.7,222.7 L552.1,222.5 L551.5,222.3 L551.0,222.1 L550.6,222.0 L550.3,221.9Z" fill="url(#g2a)" stroke="url(#g2b)" stroke-width="1.3" filter="url(#b1)"/><path d="M549.7,222.8 L550.0,223.0 L550.3,223.3 L550.7,223.6 L551.1,224.0 L551.6,224.4 L552.1,224.8 L552.6,225.2 L553.2,225.7 L553.7,226.1 L554.3,226.6 L554.8,227.1 L555.3,227.5 L555.8,228.0 L556.3,228.5 L556.8,229.0 L557.3,229.5 L557.8,230.0 L558.3,230.5 L558.8,231.0 L559.3,231.6 L559.8,232.1 L560.3,232.7 L560.8,233.2 L561.3,233.8 L561.8,234.4 L562.3,235.0 L562.8,235.7 L563.3,236.3 L563.9,237.0 L564.4,237.7 L564.9,238.4 L565.4,239.0 L565.9,239.7 L566.4,240.4 L566.9,241.1 L567.3,241.9 L567.8,242.6 L568.2,243.3 L568.6,244.1 L569.0,244.9 L569.5,245.7 L569.9,246.5 L570.3,247.3 L570.7,248.2 L571.1,249.0 L571.6,249.9 L572.0,250.7 L572.4,251.5 L572.7,252.4 L573.1,253.1 L573.4,253.9 L573.8,254.7 L574.1,255.6 L574.5,256.4 L574.8,257.2 L575.2,258.1 L575.5,258.9 L575.9,259.8 L576.3,260.7 L576.7,261.6 L577.2,262.5 L577.6,263.3 L578.0,264.2 L578.5,265.1 L578.9,266.0 L579.4,266.9 L579.8,267.8 L580.3,268.7 L580.8,269.6 L581.2,270.5 L581.7,271.5 L582.2,272.4 L582.7,273.2 L583.2,274.1 L583.8,275.0 L584.3,275.9 L584.8,276.9 L585.3,277.8 L585.9,278.7 L586.4,279.6 L587.0,280.5 L587.6,281.4 L588.2,282.3 L588.8,283.2 L589.4,284.1 L590.1,285.0 L590.7,285.9 L591.3,286.8 L592.0,287.7 L592.7,288.6 L593.4,289.5 L594.1,290.4 L594.8,291.3 L595.6,292.1 L596.4,293.0 L597.2,293.8 L598.0,294.6 L598.8,295.4 L599.7,296.2 L600.5,296.9 L601.4,297.6 L602.3,298.3 L603.2,299.0 L604.1,299.7 L605.0,300.4 L605.9,301.0 L606.8,301.7 L607.8,302.3 L608.7,303.0 L609.8,303.6 L610.8,304.3 L611.8,304.9 L612.9,305.5 L613.9,306.1 L614.9,306.7 L616.0,307.2 L617.0,307.8 L618.0,308.4 L619.0,308.9 L620.1,309.5 L621.1,310.1 L622.1,310.6 L623.1,311.2 L624.1,311.7 L625.1,312.2 L626.1,312.8 L627.1,313.3 L628.1,313.8 L629.1,314.3 L630.1,314.9 L631.0,315.4 L632.0,316.0 L633.0,316.5 L634.0,317.1 L635.0,317.7 L636.0,318.3 L637.0,319.0 L638.0,319.6 L639.0,320.2 L640.0,320.8 L641.0,321.4 L642.0,322.0 L642.9,322.6 L643.9,323.2 L644.8,323.8 L645.7,324.4 L646.6,325.0 L647.4,325.5 L648.3,326.0 L649.1,326.6 L649.9,327.1 L650.7,327.6 L651.5,328.2 L652.3,328.7 L653.1,329.2 L653.8,329.7 L654.5,330.2 L655.2,330.8 L655.9,331.3 L656.6,331.9 L657.3,332.4 L658.1,333.0 L658.8,333.6 L659.5,334.1 L660.2,334.7 L660.9,335.3 L661.6,335.8 L662.3,336.4 L663.0,336.9 L663.7,337.4 L664.4,337.8 L665.0,338.3 L665.7,338.8 L666.3,339.2 L667.0,339.7 L667.6,340.1 L668.2,340.5 L668.8,340.9 L669.5,341.3 L670.1,341.7 L670.7,342.0 L671.3,342.4 L672.0,342.8 L672.7,343.1 L673.3,343.4 L673.9,343.7 L674.5,344.0 L675.1,344.3 L675.6,344.5 L676.1,344.8 L676.5,344.9 L676.8,345.1 L677.2,344.5 L677.0,344.2 L676.6,343.9 L676.3,343.6 L675.9,343.2 L675.4,342.8 L674.9,342.3 L674.4,341.8 L673.9,341.3 L673.4,340.8 L672.9,340.3 L672.4,339.8 L671.9,339.3 L671.5,338.8 L671.0,338.3 L670.5,337.8 L670.0,337.3 L669.5,336.7 L668.9,336.2 L668.4,335.6 L667.9,335.0 L667.3,334.5 L666.8,333.9 L666.2,333.3 L665.7,332.6 L665.1,332.0 L664.6,331.4 L664.1,330.7 L663.5,330.1 L662.9,329.4 L662.3,328.6 L661.7,327.9 L661.1,327.2 L660.4,326.5 L659.7,325.7 L659.0,325.0 L658.2,324.3 L657.4,323.6 L656.6,322.9 L655.8,322.3 L655.0,321.7 L654.2,321.0 L653.4,320.4 L652.5,319.8 L651.7,319.2 L650.8,318.6 L649.9,318.0 L649.0,317.4 L648.1,316.8 L647.2,316.1 L646.2,315.5 L645.3,314.8 L644.3,314.2 L643.3,313.5 L642.2,312.9 L641.2,312.2 L640.2,311.6 L639.1,310.9 L638.1,310.3 L637.0,309.7 L636.0,309.0 L635.0,308.4 L633.9,307.9 L632.9,307.3 L631.9,306.7 L630.9,306.2 L629.9,305.7 L628.9,305.1 L627.9,304.6 L626.9,304.1 L625.9,303.6 L624.9,303.1 L623.9,302.5 L622.9,301.9 L621.9,301.4 L620.9,300.8 L619.9,300.2 L618.9,299.7 L617.8,299.1 L616.9,298.5 L615.9,298.0 L614.9,297.4 L614.0,296.8 L613.1,296.3 L612.2,295.7 L611.4,295.1 L610.5,294.5 L609.7,293.9 L608.8,293.3 L608.0,292.7 L607.2,292.0 L606.5,291.4 L605.7,290.8 L605.0,290.2 L604.2,289.5 L603.5,288.8 L602.8,288.2 L602.2,287.5 L601.5,286.8 L600.8,286.0 L600.2,285.3 L599.5,284.5 L598.9,283.7 L598.3,282.9 L597.6,282.1 L597.0,281.3 L596.4,280.4 L595.8,279.6 L595.2,278.8 L594.6,278.0 L594.0,277.1 L593.5,276.3 L592.9,275.5 L592.4,274.6 L591.8,273.8 L591.3,272.9 L590.8,272.1 L590.3,271.2 L589.8,270.4 L589.3,269.5 L588.8,268.6 L588.3,267.8 L587.8,266.9 L587.3,266.1 L586.8,265.2 L586.4,264.4 L585.9,263.5 L585.4,262.7 L585.0,261.8 L584.5,260.9 L584.1,260.1 L583.7,259.3 L583.3,258.4 L582.9,257.6 L582.5,256.8 L582.1,256.0 L581.8,255.2 L581.4,254.4 L581.0,253.6 L580.7,252.7 L580.3,251.9 L579.9,251.0 L579.5,250.2 L579.1,249.3 L578.6,248.5 L578.2,247.6 L577.8,246.8 L577.3,245.9 L576.9,245.0 L576.4,244.2 L575.9,243.3 L575.4,242.4 L574.9,241.5 L574.4,240.7 L573.8,239.8 L573.3,239.0 L572.7,238.1 L572.1,237.4 L571.4,236.6 L570.8,235.9 L570.1,235.1 L569.5,234.4 L568.8,233.8 L568.1,233.1 L567.4,232.5 L566.7,231.9 L566.1,231.3 L565.4,230.7 L564.7,230.2 L564.0,229.7 L563.3,229.2 L562.6,228.7 L562.0,228.3 L561.3,227.9 L560.6,227.5 L559.9,227.1 L559.2,226.8 L558.6,226.5 L558.0,226.1 L557.3,225.8 L556.7,225.5 L556.1,225.2 L555.5,224.8 L554.8,224.5 L554.2,224.2 L553.5,223.8 L552.9,223.5 L552.3,223.3 L551.8,223.0 L551.3,222.7 L550.8,222.5 L550.4,222.3 L550.1,222.2Z" fill="url(#g2c)" filter="url(#b2)"/></g>
</svg>
</body></html>
